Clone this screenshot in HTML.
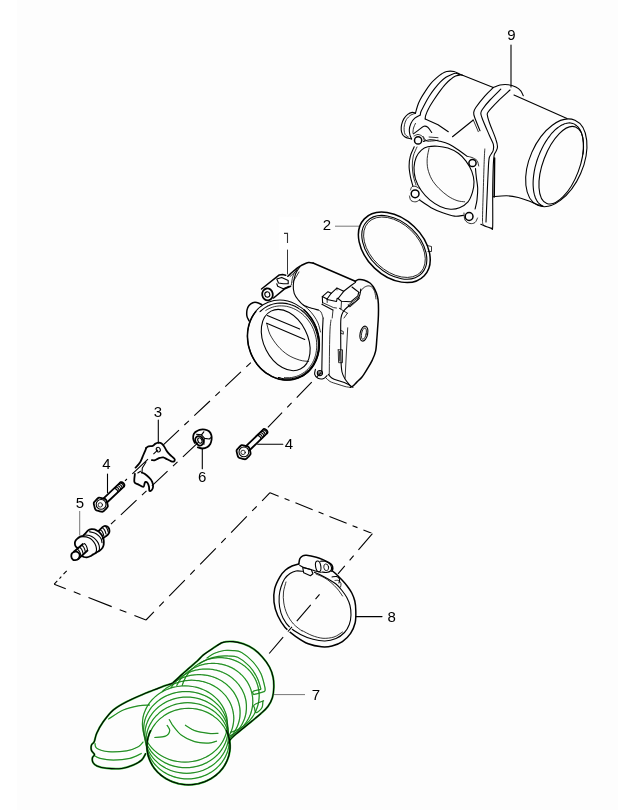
<!DOCTYPE html>
<html><head><meta charset="utf-8"><style>
html,body{margin:0;padding:0;background:#fdfdfd;}
svg{display:block;}
.k{fill:none;stroke:#000;stroke-width:1.1;stroke-linecap:round;stroke-linejoin:round;}
.t{fill:none;stroke:#000;stroke-width:0.8;stroke-linecap:round;stroke-linejoin:round;}
.b{fill:none;stroke:#000;stroke-width:1.5;stroke-linecap:round;stroke-linejoin:round;}
.g{fill:none;stroke:#777;stroke-width:1;}
.d{fill:none;stroke:#000;stroke-width:1.1;stroke-dasharray:21.5 7.4 6.2 7.4;}
.dh{fill:none;stroke:#fdfdfd;stroke-width:3.2;stroke-dasharray:21.5 7.4 6.2 7.4;}
.lbl{font-family:"Liberation Sans",sans-serif;fill:#000;filter:grayscale(1);}
.one{fill:none;stroke:#333;stroke-width:1.1;}
.gk{fill:none;stroke:#000;stroke-width:1;}
.b2{fill:none;stroke:#000;stroke-width:1.8;stroke-linecap:round;stroke-linejoin:round;}
.hgg{fill:none;stroke:#3cc83c;stroke-width:1.25;}
.hkg{fill:none;stroke:#3cc83c;stroke-width:2.0;}
.hg{fill:none;stroke:#041a04;stroke-width:0.4;}
.hk{fill:none;stroke:#000;stroke-width:1.15;}
</style></head><body>
<svg width="618" height="810" viewBox="0 0 618 810">
<rect x="0" y="0" width="17" height="810" fill="#fff"/>
<rect x="278.8" y="216.9" width="21.1" height="33" fill="#fff"/>
<text class="lbl" x="511.4" y="40" font-size="15" text-anchor="middle">9</text>
<path class="k" d="M511,45 L511,87"/>
<path class="k" d="M415.5,113.1 C415.8,111.9 416.8,108.2 417.5,106 C418.2,103.8 418.8,102.3 420,100 C421.2,97.7 423.1,94.6 424.9,91.9 C426.6,89.2 428.6,86.1 430.5,83.8 C432.4,81.5 434.3,79.8 436.2,78.1 C438.1,76.4 440.1,74.8 441.8,73.7 C443.6,72.6 444.7,71.9 446.7,71.5 C448.7,71.1 452,71.1 454,71.5 C456,71.9 458,73.3 458.8,73.7"/>
<path class="k" d="M420.3,114.7 C420.4,114.2 420.4,113 421,111.5 C421.6,110 422.7,108.1 424,105.6 C425.3,103.1 427.1,99.5 428.9,96.7 C430.7,93.9 432.7,91.1 434.6,88.7 C436.5,86.3 438.3,84.1 440.2,82.2 C442.1,80.3 444,78.6 445.9,77.3 C447.8,76 450,75.2 451.6,74.5 C453.2,73.8 454.3,73.3 455.6,73.3 C456.9,73.3 458.9,74.3 459.6,74.5"/>
<path class="k" d="M425.2,118.9 C425.3,118.3 425.1,117.2 425.7,115.4 C426.3,113.6 427.5,110.7 428.9,108.1 C430.2,105.5 432.1,102.7 433.8,100 C435.6,97.3 437.5,94.5 439.4,91.9 C441.3,89.3 443.2,86.7 445.1,84.6 C447,82.5 448.9,80.7 450.7,79.3 C452.4,77.9 454,76.8 455.6,76.1 C457.2,75.4 459.3,75 460.5,74.9 C461.7,74.8 462.6,75.4 463,75.5"/>
<path class="k" d="M458.8,73.7 L493.3,87.5"/>
<path class="k" d="M415.5,113.1 C414.9,113 413.5,112.2 412.2,112.4 C410.9,112.6 409.1,113.3 407.7,114.4 C406.3,115.5 404.8,117.2 403.8,118.9 C402.8,120.6 402,122.9 401.6,124.7 C401.2,126.5 401.1,128.3 401.2,129.9 C401.3,131.5 401.9,133.2 402.5,134.4 C403.1,135.6 404.1,136.3 405.1,137 C406.1,137.7 407.3,138 408.4,138.3 C409.5,138.6 411.1,138.9 411.6,139"/>
<path class="t" d="M415.5,113.4 C414.7,113.7 412.4,114 410.9,115 C409.4,116 407.5,117.9 406.4,119.5 C405.3,121.1 404.9,123 404.5,124.7 C404.1,126.4 404,128.3 404.1,129.9 C404.2,131.5 404.4,133.2 405.1,134.4 C405.8,135.6 407.8,136.6 408.4,137"/>
<path class="k" d="M420.3,115 C419.4,115.5 416.4,116.8 414.8,118.2 C413.2,119.6 411.8,121.5 410.9,123.4 C410,125.4 409.4,128 409.3,129.9 C409.2,131.8 409.6,133.6 410,135.1 C410.4,136.6 411.3,138.3 411.6,139"/>
<path class="t" d="M415.5,123.4 C415.2,124.2 413.9,126.4 413.5,128 C413.1,129.6 413,132.2 412.9,133.1"/>
<path class="k" d="M425.2,118.9 L438,124.7 L448.3,131.7"/>
<path class="k" d="M452.5,136.7 L473.3,120"/>
<path class="t" d="M473.3,120 L478.3,131.7"/>
<path class="k" d="M413.5,133.8 C414.4,133.2 417,131.2 418.7,129.9 C420.4,128.7 422.4,126.7 423.9,126.3 C425.4,125.9 426.5,126.3 427.8,127.3 C429.1,128.3 431.1,131.6 431.7,132.5"/>
<path class="t" d="M423.2,136.4 C423.8,137.2 424.9,140.2 426.5,140.9 C428.1,141.7 431.1,141 433,140.9 C434.9,140.8 437.2,140.3 438,140.2"/>
<path class="t" d="M429.1,137 L438,137.7"/>
<path class="k" d="M493.3,87.5 C494.4,87.1 497.5,85.5 500,85 C502.5,84.5 505.7,84.4 508.3,84.7 C510.9,85 513.7,86 515.8,87 C517.9,88 519.5,89.3 520.8,90.8 C522,92.3 522.9,95 523.3,95.8"/>
<path class="k" d="M493.3,87.5 C491.9,88.9 487.9,92.5 485,95.8 C482.1,99.1 477.7,104.7 475.8,107.5 C473.9,110.3 473.9,110.8 473.7,112.5 C473.5,114.2 473.6,114.5 474.7,117.5 C475.8,120.5 479.1,128.6 480,130.8"/>
<path class="k" d="M500.8,89.2 C499,91 493.1,96.7 490,100 C486.9,103.3 484,107 482.5,109.2 C481,111.4 480.8,111.6 480.8,113.3 C480.8,115 481.1,115.6 482.5,119.2 C483.9,122.8 487.4,130.8 489.2,135 C491,139.2 492.6,141.7 493.3,144.2 C494,146.7 493.6,148.5 493.3,150 C493,151.5 492.3,152.1 491.7,153.3 C491.1,154.5 490,155.1 489.5,157 C489,158.9 488.9,158.2 488.5,165 C488.1,171.8 487.4,188.5 487,198 C486.6,207.5 486.2,218 486,222"/>
<path class="k" d="M510,90 C508.1,91.8 501.9,97.2 498.3,100.8 C494.7,104.4 490.1,109.2 488.3,111.7 C486.5,114.2 487.2,113.7 487.5,115.8 C487.8,117.9 488.6,120.3 490,124.2 C491.4,128.1 494.6,135.4 495.8,139.2 C497.1,142.9 497.5,144.6 497.5,146.7 C497.5,148.8 496.4,150.3 495.8,151.7 C495.2,153.1 494.6,152.8 494.2,155 C493.8,157.2 493.6,159.2 493.3,165 C493.1,170.8 492.8,179.8 492.7,190 C492.6,200.2 492.9,219.6 492.7,226 C492.5,232.4 491.9,227.9 491.7,228.3"/>
<path class="t" d="M484.8,149 C484.7,151.1 484.4,154.9 484.2,161.7 C483.9,168.5 483.6,180.3 483.3,190 C483,199.7 482.5,214.3 482.5,220 C482.5,225.7 483.2,223.5 483.3,224.2"/>
<path class="b" d="M494.6,158 L494.2,197"/>
<path class="k" d="M480.8,224.2 C481.8,224.6 484.8,226.1 486.7,226.8 C488.6,227.5 491.1,228.2 492,228.5"/>
<path class="k" d="M514,95 L567,118.5"/>
<path class="k" d="M493.3,196.7 C495.5,196.5 502.5,195.7 506.7,195.8 C510.9,195.9 514.7,196.7 518.3,197.5 C521.9,198.3 525.2,199.7 528.3,200.8 C531.4,201.9 534.2,203.3 536.7,204.2 C539.2,205.1 542,205.7 543,206"/>
<ellipse class="k" cx="556.3" cy="162.8" rx="26.6" ry="46.4" transform="rotate(23.7 556.3 162.8)"/>
<path class="k" d="M541.7,205.6 C541.4,205.4 540.4,204.8 539.8,204.2 C539.2,203.7 538.6,203.1 538.1,202.5 C537.6,201.8 537.1,201 536.6,200.2 C536.2,199.5 535.8,198.6 535.4,197.7 C535,196.7 534.7,195.8 534.4,194.7 C534.2,193.7 533.9,192.6 533.7,191.4 C533.5,190.3 533.4,189.1 533.3,187.9 C533.2,186.7 533.1,185.4 533.1,184.1 C533.1,182.8 533.1,181.4 533.2,180.1 C533.3,178.7 533.4,177.3 533.6,175.9 C533.8,174.4 534,173 534.2,171.6 C534.5,170.1 534.8,168.6 535.1,167.2 C535.5,165.7 535.9,164.2 536.3,162.8 C536.7,161.3 537.2,159.9 537.7,158.4 C538.2,157 538.8,155.5 539.4,154.1 C539.9,152.7 540.5,151.3 541.2,149.9 C541.8,148.6 542.5,147.2 543.2,145.9 C543.9,144.6 544.7,143.3 545.4,142.1 C546.2,140.9 547,139.7 547.8,138.5 C548.5,137.4 549.4,136.3 550.2,135.3 C551,134.2 551.9,133.2 552.7,132.3 C553.6,131.4 554.5,130.5 555.3,129.7 C556.2,128.9 557.1,128.2 558,127.5 C558.9,126.9 559.7,126.3 560.6,125.7 C561.5,125.2 562.4,124.8 563.2,124.4 C564.1,124 564.9,123.7 565.8,123.5 C566.6,123.2 567.4,123.1 568.3,123 C569.1,122.9 569.9,122.9 570.6,123 C571.4,123.1 572.1,123.3 572.8,123.5 C573.6,123.7 574.3,124 574.9,124.4 C575.6,124.8 576.2,125.2 576.8,125.8 C577.4,126.3 578,126.9 578.5,127.5 C579,128.2 579.5,129 580,129.8 C580.4,130.5 580.8,131.4 581.2,132.3 C581.6,133.3 581.9,134.2 582.2,135.3 C582.4,136.3 582.7,137.4 582.9,138.6 C583.1,139.7 583.2,140.9 583.3,142.1 C583.4,143.3 583.5,144.6 583.5,145.9 C583.5,147.2 583.5,148.6 583.4,149.9 C583.3,151.3 583.1,153.4 583,154.1"/>
<ellipse class="k" cx="561.2" cy="165.2" rx="18.2" ry="40.8" transform="rotate(20.6 561.2 165.2)"/>
<circle class="b" cx="418.1" cy="140.4" r="3.6"/>
<circle class="b" cx="472.5" cy="163" r="3.6"/>
<circle class="b" cx="415.1" cy="193.8" r="3.9"/>
<circle class="b" cx="469.1" cy="216.5" r="3.9"/>
<path class="k" d="M427.8,146.8 C430.5,146.2 434.1,146 437.5,146.2 C440.9,146.4 444.4,146.9 447.9,148.1 C451.4,149.3 455.3,151.1 458.3,153.3 C461.3,155.5 463.8,158.1 466,161.1 C468.2,164.1 470.5,167.9 471.8,171.4 C473.1,174.9 473.9,178.4 474,181.8 C474.1,185.2 473.5,188.8 472.5,192.1 C471.5,195.4 470.2,199.2 468,201.8 C465.8,204.4 462.4,206.5 459.5,207.7 C456.6,208.9 453.7,209.4 450.5,209.2 C447.3,209 443.6,207.9 440.1,206.4 C436.7,204.9 432.9,202.5 429.8,199.9 C426.7,197.3 423.8,194.2 421.4,190.8 C419,187.4 416.7,183.1 415.5,179.2 C414.3,175.3 413.9,171.2 414,167.5 C414.1,163.8 415,160.1 416.2,157.2 C417.4,154.3 419.5,151.8 421.4,150.1 C423.3,148.4 425.1,147.5 427.8,146.8Z"/>
<path class="t" d="M429.1,148.1 C428.8,149.8 427.4,155.1 427.2,158.5 C427,161.9 427.1,165.4 427.8,168.8 C428.6,172.2 429.9,175.9 431.7,179.2 C433.5,182.4 436.1,185.5 438.8,188.3 C441.5,191.1 444.9,193.9 447.9,196 C450.9,198.1 454.2,199.6 457,200.6 C459.8,201.6 463.4,201.6 464.7,201.8"/>
<path class="k" d="M414.2,146.8 C413.6,148.3 411.2,152.7 410.4,155.9 C409.5,159.1 409.1,162.8 409.1,166.2 C409.1,169.6 409.8,173.3 410.4,176.6 C411,179.9 412.5,184.4 412.9,186"/>
<path class="t" d="M417,147 C416.4,148.5 414.1,152.8 413.3,156 C412.5,159.2 412.3,162.7 412.3,166 C412.3,169.3 412.7,172.8 413.3,176 C413.9,179.2 415.6,183.5 416,185"/>
<path class="k" d="M419.4,199.9 C421.3,201.2 427.2,205.5 431.1,207.7 C435,209.8 438.8,211.4 442.7,212.8 C446.6,214.2 450.9,215.7 454.4,216.1 C457.8,216.5 461.9,215.5 463.4,215.4"/>
<path class="k" d="M475.1,209 C475.4,207.5 476.6,203.3 477,199.9 C477.4,196.5 477.8,192 477.7,188.3 C477.6,184.6 476.8,181.2 476.4,177.9 C476,174.6 475.6,170.1 475.5,168.5"/>
<path class="k" d="M467.3,156.5 C466,155.5 462.5,152.8 459.5,150.7 C456.5,148.6 452.6,145.8 449.2,144.2 C445.8,142.6 442,141.8 438.8,141 C435.6,140.2 432.4,139.6 429.8,139.7 C427.2,139.8 424.6,141.2 423.5,141.5"/>
<path class="t" d="M414,136 C414.7,135.8 416.6,134.4 418,134.5 C419.4,134.6 421.4,135.4 422.5,136.5 C423.6,137.6 424.2,140.2 424.5,141"/>
<path class="t" d="M410.5,190 C410.8,189.4 411.1,187.3 412,186.7 C412.9,186.1 414.7,186.1 416,186.5 C417.3,186.9 419.3,188.6 420,189"/>
<path class="t" d="M409.5,196 C409.8,196.8 409.9,199.5 411,200.5 C412.1,201.5 414.5,202 416,201.8 C417.5,201.6 419.3,199.9 420,199.5"/>
<path class="t" d="M464,213 C464.2,214.2 464,218.2 465,220 C466,221.8 468.3,223.1 470,223.5 C471.7,223.9 473.8,223.4 475,222.5 C476.2,221.6 477.1,218.8 477.5,218"/>
<path class="t" d="M468,156.5 C468.7,156.7 470.5,156.8 472,157.5 C473.5,158.2 475.9,159.1 477,160.5 C478.1,161.9 478.4,165.1 478.7,166"/>
<text class="lbl" x="326.9" y="229.6" font-size="15" text-anchor="middle">2</text>
<path class="g" d="M335,226.2 L359,226.2"/>
<ellipse class="b" cx="394.3" cy="247.3" rx="41.3" ry="28.7" transform="rotate(43.5 394.3 247.3)"/>
<ellipse class="k" cx="394.3" cy="247.3" rx="37.8" ry="25.3" transform="rotate(43.5 394.3 247.3)"/>
<ellipse class="t" cx="394.5" cy="247.3" rx="36.2" ry="23.7" transform="rotate(43.5 394.5 247.3)"/>
<path class="t" d="M427,245.5 L431.5,246.5 L431.5,251.5 L428,251.5"/>
<path class="one" d="M284,233.4 L287.5,233.4 L287.5,243"/>
<path class="t" d="M287.5,250 L287.5,274"/>
<path class="b" d="M287.8,276.2 C288.6,275.5 291,273.3 292.5,272 C294,270.7 295.6,269.4 296.8,268.4 C298.1,267.4 298.9,266.8 300,266.2 C301.1,265.6 301.9,265.1 303.3,264.5 C304.7,263.9 306.9,262.9 308.5,262.6 C310.1,262.4 312.2,262.9 313,263"/>
<path class="b" d="M313,263 L355.3,281.3"/>
<path class="b" d="M355.3,281.3 C355.9,281 357.2,279.8 358.7,279.6 C360.2,279.4 362.5,279.6 364.4,280.2 C366.3,280.8 368.5,281.9 370,283 C371.5,284.1 372.3,285.4 373.4,287 C374.4,288.6 375.5,290.6 376.3,292.7 C377.1,294.8 377.6,296.6 378,299.4 C378.4,302.2 378.5,306.2 378.5,309.6 C378.5,313 378.4,316.6 378.2,320 C378,323.4 377.7,326.8 377.5,330 C377.3,333.2 377.1,335.9 376.8,339.4 C376.5,342.9 376.4,347.7 375.6,351.1 C374.9,354.6 373.7,357.1 372.3,360.1 C370.9,363.1 368.8,366.4 367.1,369.2 C365.4,372 363.7,374.9 362,377 C360.3,379.1 358.3,380.6 356.8,382.1 C355.3,383.6 354,385.1 352.9,386 C351.8,386.9 350.7,387.1 350.3,387.3"/>
<path class="t" d="M359.8,292.7 C360.4,291.9 361.9,289.2 363.2,288.1 C364.5,287 366.4,286.1 367.8,285.9 C369.2,285.7 370.6,286.1 371.7,287 C372.8,287.9 373.9,289.5 374.6,291.5 C375.3,293.5 375.8,297.8 376,299"/>
<path class="k" d="M360.8,289 C360.6,290 360.4,293.2 359.8,295 C359.2,296.8 358.3,298.5 357,300 C355.7,301.5 353.7,302.8 352,304 C350.3,305.2 348.5,306.2 347,307.5 C345.5,308.8 344,310.2 343,312 C342,313.8 341.4,315 341,318 C340.6,321 340.7,323 340.7,330 C340.7,337 340.8,353 341,360 C341.2,367 341.3,368.8 342,372 C342.7,375.2 343.6,376.7 345,379 C346.4,381.3 349.6,384.8 350.5,386"/>
<path class="t" d="M331,320 C330.8,321.7 330.2,325 330,330 C329.8,335 329.6,342.6 329.5,350 C329.4,357.4 329.3,370.3 329.3,374.4"/>
<path class="k" d="M323.1,318 L322.5,330.4 L321.8,371.8"/>
<path class="t" d="M347.7,327.8 L346.5,350 L345.1,378.3"/>
<path class="k" d="M328.3,374.4 C328.9,375 330.5,377.2 332.2,378.3 C333.9,379.4 336.3,380 338.7,380.8 C341.1,381.6 344.2,382.4 346.4,383.4 C348.5,384.3 350.5,385.9 351.6,386.5 C352.7,387.1 352.8,387.1 353,387.2"/>
<path class="t" d="M326,378 C326.7,378.6 328.2,380.5 330,381.5 C331.8,382.5 334.5,383.2 337,384 C339.5,384.8 342.8,385.9 345,386.5 C347.2,387.1 349.4,387.2 350.3,387.3"/>
<path class="k" d="M322.3,296.6 L328,291.7 L331.2,293.3 L327.1,299 L322.3,296.6"/>
<path class="k" d="M322.3,296.6 L322.6,303"/>
<path class="t" d="M327.1,299 L327.2,302.5"/>
<path class="k" d="M331.2,293.3 L336.8,288.1 L343.7,291.3 L338.1,298.5"/>
<path class="k" d="M327.1,299.5 L336.5,301.5 L337.2,298.2 L338.1,298.5"/>
<path class="k" d="M343.7,291.3 L351.4,285.3 L355.5,282.4"/>
<path class="k" d="M338.1,298.5 L341.5,301.3 L350.6,301.8 L357.9,295.8 L358.7,292.1 L355.5,289.7 L352,287"/>
<path class="t" d="M336.8,288.1 L337,290"/>
<path class="t" d="M348.2,305.1 L358.7,297 L359.5,298.6 L349.8,307.1 L348.2,305.1"/>
<path class="k" d="M321.9,304.3 L332.8,309.9"/>
<path class="t" d="M322.6,302.6 L333.5,307.6 L336.5,308"/>
<path class="t" d="M333,310 L332.2,318"/>
<path class="t" d="M341.5,301.3 L341,309 L339.3,308.3 L347.4,313.2"/>
<path class="t" d="M347.4,313.2 L344,318"/>
<path class="k" d="M300,266.7 C299.2,267.9 296.6,270.9 295.5,274 C294.4,277.1 293.5,281.8 293.3,285 C293.1,288.2 293.4,290.8 294.2,293.3 C295,295.8 296.8,298.1 298.3,300 C299.8,301.9 301.1,303.6 303.3,305 C305.5,306.4 309.2,307.5 311.7,308.3 C314.2,309.1 317.2,309.7 318.3,310"/>
<path class="t" d="M297.5,268 C296.8,269.3 294,273.2 293,276 C292,278.8 291.6,283.5 291.3,285"/>
<ellipse class="k" cx="363.9" cy="333.6" rx="3.8" ry="7.6" transform="rotate(12 363.9 333.6)"/>
<ellipse class="t" cx="363.9" cy="333.6" rx="2.3" ry="5.8" transform="rotate(12 363.9 333.6)"/>
<path class="t" d="M340.6,330.4 L343.3,331.5 L343.3,334.2 L340.6,333"/>
<path class="t" d="M338.2,349.8 L342.5,349.8 L342.5,362.7 L338.6,362.7 L338.2,349.8"/>
<path class="t" d="M339.5,351.5 L339.7,361"/>
<path class="t" d="M303.3,305 C304.2,305.8 307.2,308.2 309,310 C310.8,311.8 312.5,313.8 314,316 C315.5,318.2 316.9,320.3 318,323 C319.1,325.7 320.1,330.5 320.5,332"/>
<path class="t" d="M318.3,310 C318.8,310.3 320.2,310.7 321,312 C321.8,313.3 322.8,317 323.1,318"/>
<circle class="k" cx="319.9" cy="373.1" r="2.6"/>
<circle class="t" cx="319.9" cy="373.1" r="1.3"/>
<path class="k" d="M315.4,369.2 C315.3,370.1 314.3,372.9 314.7,374.4 C315.1,375.9 316.6,377.6 318,378.3 C319.4,379 321.6,379.2 323.1,378.8 C324.6,378.4 326.4,376.1 327,375.6"/>
<ellipse class="b2" cx="267.5" cy="294.4" rx="5.3" ry="6" transform="rotate(-10 267.5 294.4)"/>
<ellipse class="k" cx="267.3" cy="294.5" rx="2.5" ry="2.7" transform="rotate(-10 267.3 294.5)"/>
<path class="b" d="M261.5,289 L279.3,274.9 L282.6,274.6 L285.7,275.3"/>
<path class="b" d="M273.6,298 L284.9,288.7 L290.6,286.3"/>
<path class="k" d="M276.8,279 L281.7,277.4 L288.2,280.6 L288.2,283.8 L283.3,283.8 L278.5,283 L276.8,279"/>
<path class="k" d="M276.8,283.8 L277.7,286.3 L283.3,288.7 L289,286.3"/>
<path class="t" d="M290.1,276.5 L297,270"/>
<path class="t" d="M293,282 L299,272"/>
<path class="b" d="M249,320.8 C248.7,320 247.2,317.8 246.9,316 C246.6,314.2 246.7,311.8 247,310 C247.3,308.2 248,306.7 249,305.5 C250,304.3 251.5,303.2 252.8,302.7 C254.1,302.2 255.2,302.2 256.7,302.5 C258.2,302.8 261,304.3 261.9,304.7"/>
<ellipse class="k" cx="283.4" cy="340.1" rx="35.1" ry="40.7" transform="rotate(-22 283.4 340.1)"/>
<path class="b" d="M304,309.8 C304.4,310.3 305.8,311.6 306.7,312.5 C307.6,313.4 308.4,314.4 309.2,315.4 C310,316.4 310.8,317.4 311.5,318.5 C312.2,319.6 312.9,320.7 313.5,321.8 C314.1,323 314.7,324.1 315.2,325.3 C315.8,326.5 316.3,327.7 316.7,328.9 C317.1,330.2 317.5,331.4 317.8,332.7 C318.2,333.9 318.4,335.2 318.7,336.5 C318.9,337.7 319.1,339 319.2,340.3 C319.3,341.6 319.3,342.9 319.3,344.1 C319.3,345.4 319.3,346.7 319.2,347.9 C319.1,349.2 318.9,350.4 318.7,351.6 C318.5,352.9 318.2,354.1 317.9,355.3 C317.6,356.4 317.2,357.6 316.7,358.7 C316.3,359.9 315.8,361 315.3,362 C314.8,363.1 314.2,364.1 313.6,365.1 C313,366.1 312.3,367.1 311.6,368 C310.9,368.9 310.1,369.8 309.3,370.6 C308.5,371.4 307.7,372.2 306.8,373 C305.9,373.7 305,374.4 304.1,375 C303.1,375.6 302.2,376.2 301.2,376.7 C300.2,377.2 299.1,377.7 298.1,378.1 C297,378.5 296,378.8 294.9,379.1 C293.8,379.4 292.7,379.6 291.5,379.7 C290.4,379.9 289.3,380 288.2,380 C287,380.1 285.9,380.1 284.7,380 C283.6,379.9 282.4,379.7 281.3,379.5 C280.1,379.3 279,379.1 277.8,378.7 C276.7,378.4 275.6,378 274.5,377.6 C273.4,377.1 272.2,376.6 271.2,376.1 C270.1,375.5 269,374.9 268,374.2 C266.9,373.6 265.9,372.9 264.9,372.1 C264,371.3 263,370.5 262.1,369.7 C261.2,368.8 260.3,367.9 259.4,366.9 C258.5,366 257.7,365 256.9,364 C256.2,363 255.4,361.9 254.7,360.8 C254,359.7 253.4,358.6 252.8,357.4 C252.2,356.3 251.6,355.1 251.1,353.9 C250.6,352.7 250.2,351.5 249.8,350.2 C249.4,349 249,347.8 248.7,346.5 C248.4,345.2 248.2,344 248,342.7 C247.8,341.4 247.6,340.1 247.6,338.9 C247.5,337.6 247.4,336.3 247.5,335 C247.5,333.8 247.6,332.5 247.7,331.3 C247.9,330 248.1,328.8 248.3,327.6 C248.5,326.3 248.8,325.1 249.2,324 C249.6,322.8 250,321.7 250.4,320.5 C250.9,319.4 251.4,318.3 251.9,317.3 C252.5,316.3 253.1,315.2 253.7,314.3 C254.4,313.3 255.5,311.9 255.8,311.5"/>
<path class="k" d="M260,311.6 C260.4,311.3 261.4,310.4 262.1,309.8 C262.8,309.2 263.5,308.6 264.3,308.1 C265,307.6 265.8,307.1 266.6,306.7 C267.4,306.2 268.3,305.8 269.1,305.5 C269.9,305.1 270.8,304.8 271.7,304.5 C272.5,304.2 273.4,304 274.3,303.8 C275.2,303.6 276.1,303.4 277,303.3 C277.9,303.2 278.9,303.1 279.8,303.1 C280.7,303.1 281.6,303.1 282.6,303.1 C283.5,303.2 284.4,303.3 285.4,303.4 C286.3,303.6 287.2,303.8 288.2,304 C289.1,304.2 290,304.5 290.9,304.8 C291.9,305.1 292.8,305.4 293.7,305.8 C294.6,306.2 295.4,306.6 296.3,307.1 C297.2,307.5 298.1,308 298.9,308.6 C299.7,309.1 300.6,309.7 301.4,310.3 C302.2,310.9 303,311.6 303.7,312.2 C304.5,312.9 305.3,313.6 306,314.3 C306.7,315.1 307.4,315.9 308.1,316.6 C308.7,317.4 309.4,318.3 310,319.1 C310.6,320 311.2,320.8 311.7,321.7 C312.3,322.6 312.8,323.5 313.3,324.5 C313.8,325.4 314.2,326.3 314.7,327.3 C315.1,328.3 315.5,329.3 315.8,330.3 C316.2,331.2 316.5,332.3 316.8,333.3 C317.1,334.3 317.3,335.3 317.5,336.3 C317.7,337.4 317.9,338.4 318,339.4 C318.2,340.5 318.3,341.5 318.3,342.5 C318.4,343.6 318.4,344.6 318.4,345.6 C318.3,346.7 318.3,347.7 318.2,348.7 C318.1,349.7 318,350.7 317.8,351.7 C317.6,352.7 317.4,353.7 317.2,354.7 C316.9,355.6 316.6,356.6 316.3,357.5 C316,358.5 315.6,359.4 315.2,360.3 C314.8,361.2 314.4,362 314,362.9 C313.5,363.7 313,364.5 312.5,365.3 C312,366.1 311.4,366.9 310.8,367.6 C310.2,368.4 309.6,369.1 309,369.8 C308.3,370.4 307.6,371.1 306.9,371.7 C306.3,372.3 305.5,372.9 304.8,373.4 C304,373.9 303.3,374.4 302.5,374.9 C301.7,375.4 300.9,375.8 300,376.2 C299.2,376.6 298.4,376.9 297.5,377.2 C296.7,377.5 295.8,377.8 294.9,378 C294,378.2 293.1,378.4 292.2,378.6 C291.3,378.7 290.4,378.8 289.4,378.9 C288.5,378.9 287.6,378.9 286.7,378.9 C285.7,378.9 284.8,378.8 283.9,378.7 C282.9,378.6 282,378.4 281.1,378.2 C280.1,378 278.7,377.6 278.3,377.5"/>
<path class="t" d="M265.8,310.4 C266.1,310.2 267.2,309.6 267.8,309.2 C268.5,308.8 269.3,308.5 270,308.2 C270.7,307.8 271.4,307.6 272.2,307.3 C272.9,307.1 273.7,306.8 274.5,306.6 C275.2,306.5 276,306.3 276.8,306.2 C277.6,306.1 278.4,306 279.2,305.9 C280,305.9 280.8,305.9 281.6,305.9 C282.4,305.9 283.2,305.9 284,306 C284.8,306.1 285.6,306.2 286.4,306.3 C287.3,306.5 288.1,306.7 288.9,306.9 C289.7,307.1 290.5,307.4 291.2,307.6 C292,307.9 292.8,308.2 293.6,308.6 C294.4,308.9 295.1,309.3 295.9,309.7 C296.7,310.1 297.4,310.5 298.1,311 C298.9,311.4 299.6,311.9 300.3,312.5 C301,313 301.7,313.5 302.4,314.1 C303,314.7 303.7,315.3 304.3,315.9 C305,316.5 305.6,317.2 306.2,317.8 C306.8,318.5 307.4,319.2 307.9,319.9 C308.5,320.6 309,321.4 309.5,322.1 C310,322.9 310.5,323.6 311,324.4 C311.4,325.2 311.9,326 312.3,326.8 C312.7,327.6 313.1,328.5 313.4,329.3 C313.8,330.2 314.1,331 314.4,331.9 C314.7,332.7 315,333.6 315.2,334.5 C315.5,335.4 315.7,336.3 315.9,337.2 C316.1,338 316.2,338.9 316.4,339.8 C316.5,340.7 316.6,341.6 316.6,342.5 C316.7,343.4 316.7,344.3 316.7,345.2 C316.8,346.1 316.7,347 316.7,347.9 C316.6,348.8 316.5,349.7 316.4,350.5 C316.3,351.4 316.2,352.3 316,353.1 C315.8,354 315.6,354.8 315.4,355.7 C315.1,356.5 314.9,357.3 314.6,358.1 C314.3,358.9 314,359.7 313.6,360.5 C313.3,361.2 312.9,362 312.5,362.7 C312.1,363.4 311.7,364.1 311.2,364.8 C310.8,365.5 310.3,366.2 309.8,366.8 C309.3,367.5 308.8,368.1 308.2,368.7 C307.7,369.3 307.1,369.9 306.5,370.4 C305.9,371 305.3,371.5 304.7,372 C304,372.5 303.4,372.9 302.7,373.3 C302,373.8 301.4,374.2 300.7,374.5 C300,374.9 299.2,375.3 298.5,375.6 C297.8,375.9 297,376.2 296.3,376.4 C295.5,376.6 294.8,376.8 294,377 C293.2,377.2 292.5,377.4 291.7,377.5 C290.9,377.6 290.1,377.7 289.3,377.7 C288.5,377.7 287.7,377.8 286.9,377.7 C286.1,377.7 284.8,377.6 284.4,377.6"/>
<ellipse class="k" cx="285.7" cy="340.1" rx="32.5" ry="21.9" transform="rotate(63.1 285.7 340.1)"/>
<path class="k" d="M267.3,315.5 L299.7,329.1"/>
<path class="k" d="M266.7,323.2 L304.8,339.4"/>
<path class="t" d="M266.7,323.2 C267.2,325 268.1,330.4 269.9,334.2 C271.7,338 274.7,342.4 277.7,345.9 C280.7,349.4 284.3,352.6 288,355 C291.7,357.4 296.2,359 299.7,360.1 C303.1,361.2 307.2,361.2 308.7,361.4"/>
<path class="d" d="M253.9,359.7 L125,480.8" stroke-dashoffset="24.7"/>
<path class="d" d="M320.5,373.2 L267.9,427.3" stroke-dashoffset="29.9"/>
<path class="d" d="M198.6,442.1 L109.2,525.8" stroke-dashoffset="0"/>
<text class="lbl" x="157.8" y="416.6" font-size="15" text-anchor="middle">3</text>
<path class="k" d="M158.3,420 L158.3,443.3"/>
<text class="lbl" x="106.4" y="469" font-size="15" text-anchor="middle">4</text>
<path class="k" d="M107.5,474 L107.5,492.5"/>
<text class="lbl" x="79.8" y="508" font-size="15" text-anchor="middle">5</text>
<path class="g" d="M79.7,511 L79.7,535.5"/>
<text class="lbl" x="202.1" y="482" font-size="15" text-anchor="middle">6</text>
<path class="k" d="M202.3,448.3 L202.3,468.7"/>
<text class="lbl" x="289" y="449" font-size="15" text-anchor="middle">4</text>
<path class="k" d="M257.7,444.3 L282.8,444.3"/>
<text class="lbl" x="391.7" y="621.8" font-size="15" text-anchor="middle">8</text>
<path class="k" d="M355.7,616.6 L382,616.6"/>
<text class="lbl" x="315.9" y="700.4" font-size="15" text-anchor="middle">7</text>
<path class="g" d="M273.8,694.6 L305,694.6"/>
<path class="b2" d="M249.8,450 L267.2,433.2"/>
<path class="b2" d="M246,446.1 L263.4,429.3"/>
<path class="b2" d="M267.2,433.2 C268.8,431.7 265,427.8 263.4,429.3"/>
<path class="k" d="M267,433.4 Q266.2,430.4 263.2,429.5"/>
<path class="k" d="M265.5,434.8 Q264.7,431.8 261.8,430.9"/>
<path class="k" d="M264.1,436.2 Q263.3,433.2 260.4,432.3"/>
<path class="k" d="M262.7,437.6 Q261.9,434.6 258.9,433.7"/>
<path class="k" d="M261.2,438.9 Q260.4,436 257.5,435.1"/>
<path class="b2" d="M250.6,454.1 C250.3,455.1 249.1,456 248.3,456.9 C247.4,457.7 246.5,458.9 245.5,459.2 C244.4,459.4 243.1,458.9 241.9,458.6 C240.7,458.3 239.3,458.1 238.5,457.3 C237.7,456.5 237.5,455.1 237.2,453.9 C236.9,452.7 236.4,451.4 236.6,450.3 C236.9,449.3 238.1,448.4 238.9,447.5 C239.8,446.7 240.7,445.5 241.7,445.2 C242.8,445 244.1,445.5 245.3,445.8 C246.5,446.1 247.9,446.3 248.7,447.1 C249.5,447.9 249.7,449.3 250,450.5 C250.3,451.7 250.8,453 250.6,454.1Z"/>
<circle class="k" cx="243.9" cy="451.9" r="4.9"/>
<circle class="t" cx="243.1" cy="452.4" r="2.2"/>
<path class="b2" d="M107,502.5 L124.1,486.3"/>
<path class="b2" d="M103.3,498.6 L120.4,482.4"/>
<path class="b2" d="M124.1,486.3 C125.7,484.8 121.9,480.9 120.4,482.4"/>
<path class="k" d="M123.9,486.5 Q123.1,483.5 120.1,482.6"/>
<path class="k" d="M122.4,487.9 Q121.6,484.9 118.7,484"/>
<path class="k" d="M121,489.3 Q120.2,486.3 117.2,485.3"/>
<path class="k" d="M119.5,490.6 Q118.7,487.6 115.8,486.7"/>
<path class="k" d="M118.1,492 Q117.3,489 114.3,488.1"/>
<path class="b2" d="M107.8,506.6 C107.5,507.6 106.3,508.5 105.5,509.4 C104.6,510.2 103.7,511.4 102.7,511.7 C101.6,511.9 100.3,511.4 99.1,511.1 C97.9,510.8 96.5,510.6 95.7,509.8 C94.9,509 94.7,507.6 94.4,506.4 C94.1,505.2 93.6,503.9 93.8,502.8 C94.1,501.8 95.3,500.9 96.1,500 C97,499.2 97.9,498 98.9,497.7 C100,497.5 101.3,498 102.5,498.3 C103.7,498.6 105.1,498.8 105.9,499.6 C106.7,500.4 106.9,501.8 107.2,503 C107.5,504.2 108,505.5 107.8,506.6Z"/>
<circle class="k" cx="101.1" cy="504.4" r="4.9"/>
<circle class="t" cx="100.3" cy="504.9" r="2.2"/>
<path class="b2" d="M195.5,432 C196.2,431.6 197.9,430.2 199.5,429.8 C201.1,429.4 203.4,429.4 205,429.6 C206.6,429.9 207.9,430.4 209,431.3 C210.1,432.2 210.9,433.6 211.3,435 C211.7,436.4 211.8,438 211.6,439.5 C211.4,441 211.1,442.7 210.3,444 C209.5,445.3 208.3,446.6 207,447.3 C205.7,448.1 203.8,448.5 202.3,448.5 C200.8,448.5 198.6,447.5 197.8,447.3"/>
<path class="b2" d="M194.8,442.8 C194.5,442.1 193.4,439.9 193.2,438.5 C193,437.1 193.2,435.6 193.6,434.5 C194,433.4 195.2,432.4 195.5,432"/>
<ellipse class="b2" cx="199.4" cy="440.8" rx="3.9" ry="4.9" transform="rotate(-25 199.4 440.8)"/>
<ellipse class="k" cx="199.9" cy="440.5" rx="2" ry="2.8" transform="rotate(-25 199.9 440.5)"/>
<path class="k" d="M196.5,434.3 L201.5,434.9 L203.8,431.8"/>
<path class="k" d="M201.5,434.9 L204.6,438.4 L209.3,439 L211.2,437.3"/>
<path class="t" d="M204.6,438.4 L204,444.5"/>
<path class="b2" d="M146.2,447.9 C146.6,447.6 147.5,446.6 148.6,446.3 C149.7,446 151.6,446.3 152.7,445.9 C153.8,445.5 154.2,444.4 155.1,443.9 C156,443.4 157.2,442.8 158.3,442.7 C159.4,442.6 160.7,442.9 161.6,443.5 C162.5,444.1 163.2,445.2 164,446.3 C164.8,447.4 165.5,449 166.4,450.4 C167.3,451.8 168.5,453.2 169.6,454.4 C170.7,455.6 172.3,456.7 173.2,457.6 C174.1,458.5 174.7,459 174.8,459.7 C174.9,460.4 174.3,461.3 173.7,461.6 C173.1,461.9 172.4,461.7 171.3,461.3 C170.2,460.9 168.5,460 167.2,459.3 C165.8,458.6 164.4,457.6 163.2,457.4 C162,457.2 161,457.6 159.9,457.9 C158.8,458.2 157.6,458.9 156.7,459.3 C155.8,459.7 155.1,460.2 154.3,460.3 C153.5,460.4 152.2,460.1 151.8,460.1"/>
<path class="b2" d="M146.2,447.9 C146,448.4 145.6,449.8 145,451.2 C144.4,452.6 143.7,454.2 142.9,456 C142.2,457.8 141.3,460.2 140.5,461.7 C139.7,463.2 138.9,463.9 138.1,464.9 C137.3,465.9 135.9,467.2 135.5,467.6"/>
<ellipse class="k" cx="158.3" cy="449.6" rx="1.9" ry="2.4" transform="rotate(-25 158.3 449.6)"/>
<path class="b2" d="M141.7,472.6 C142.2,472.8 143.3,472.9 144.6,473.8 C145.9,474.7 148.1,476.5 149.4,477.9 C150.7,479.2 151.6,480.4 152.2,481.9 C152.8,483.4 153.2,485.4 153.1,486.8 C153,488.2 152.4,489.3 151.8,490 C151.2,490.7 149.9,491.3 149.4,490.8 C148.9,490.3 149.3,488.2 149,486.8 C148.7,485.4 148,483.5 147.4,482.7 C146.8,481.9 145.9,481.8 145.4,481.9 C144.9,482 144.9,482.7 144.6,483.5 C144.2,484.3 144.4,486.7 143.3,486.8 C142.2,486.9 139.6,485.2 138.1,484.4 C136.6,483.6 134.9,483.7 134.4,481.9 C133.9,480.1 134.8,475.1 134.9,473.8"/>
<path class="k" d="M142,472.5 L142.3,468 L144.2,465 L146,462"/>
<path class="k" d="M137.8,473 L140.5,471.3"/>
<path class="b2" d="M77.8,548.2 C77.5,547.9 76.3,547.3 75.8,546.6 C75.3,545.9 75,544.9 74.9,544 C74.8,543.1 74.8,542.3 75.2,541.4 C75.6,540.5 76.2,539.6 77.1,538.8 C78,538 79.4,537.1 80.4,536.6 C81.4,536.1 82.1,536.4 82.9,535.9 C83.7,535.4 84.3,534.6 85.2,533.7 C86.1,532.8 87.1,531.2 88.1,530.4 C89.1,529.6 90.3,529.3 91.4,529.1 C92.5,528.9 93.5,529.1 94.6,529.4 C95.7,529.7 96.8,530.5 97.8,531.1 C98.8,531.8 99.6,532.4 100.4,533.3 C101.2,534.1 101.9,535.1 102.4,536.2 C103,537.3 103.5,538.7 103.7,540.1 C103.9,541.5 103.9,543.4 103.7,544.7 C103.5,546 103.1,546.9 102.4,547.9 C101.8,548.9 100.8,549.8 99.8,550.5 C98.8,551.2 97.6,551.8 96.5,552.4 C95.4,553 94.4,553.8 93.3,554.4 C92.2,555 91.2,555.8 90.1,556.3 C89,556.8 87.8,557.2 86.8,557.3 C85.8,557.4 84.7,557.2 83.9,557 C83.1,556.8 82.3,556 82,555.8"/>
<path class="k" d="M81.7,536.6 C82.5,536.6 84.7,536.5 86.2,536.9 C87.7,537.3 89.4,537.9 90.7,538.8 C92,539.7 93,540.9 93.9,542.1 C94.8,543.3 95.5,544.7 95.9,546 C96.3,547.3 96.5,548.6 96.5,549.8 C96.5,551 96,552.5 95.9,553"/>
<path class="k" d="M84.2,535 C85.1,535.1 87.8,535.1 89.4,535.6 C91,536.1 92.6,536.9 93.9,537.9 C95.2,538.9 96.3,540.2 97.2,541.4 C98.1,542.6 98.7,544 99.1,545.3 C99.5,546.6 99.5,548.2 99.4,549.2 C99.3,550.2 98.7,551.1 98.5,551.5"/>
<path class="k" d="M89.4,531.7 C90.3,531.9 93.1,532.4 94.6,533 C96.1,533.6 97.4,534.6 98.5,535.6 C99.6,536.6 100.5,537.6 101.1,538.8 C101.7,540 101.8,542.1 102,542.7"/>
<path class="b2" d="M73.9,551.8 C73.6,552.1 72.2,552.7 71.8,553.5 C71.4,554.3 71.2,555.5 71.3,556.5 C71.4,557.5 71.9,558.7 72.6,559.3 C73.2,559.9 74.2,560.3 75.2,560.2 C76.2,560.1 77.7,559.7 78.4,558.9 C79.2,558.1 79.6,556.6 79.7,555.6 C79.8,554.6 79.3,553.7 78.8,553 C78.3,552.3 77.3,551.8 76.5,551.6 C75.7,551.4 74.3,551.8 73.9,551.8"/>
<path class="b2" d="M73.9,551.8 L82.9,544"/>
<path class="b2" d="M78.4,558.9 L87.5,550.5"/>
<path class="k" d="M77.6,549.4 q2.2,0.9 3.3,6.2"/>
<path class="k" d="M79.8,547.4 q2.2,0.9 3.3,6.2"/>
<path class="k" d="M82,545.5 q2.2,0.9 3.3,6.2"/>
<path class="k" d="M84.2,543.5 q2.2,0.9 3.3,6.2"/>
<path class="b2" d="M98.5,531.1 C99.2,530.5 101.3,528.1 102.4,527.2 C103.5,526.3 104,525.9 105,525.9 C106,525.9 107.5,526.3 108.2,527.2 C109,528.1 109.5,529.9 109.5,531.1 C109.5,532.3 109,533.3 108.2,534.3 C107.5,535.3 105.9,536.2 105,536.9 C104.1,537.6 103.2,538.2 102.8,538.5"/>
<path class="k" d="M100.8,530.2 q2,0.9 3.0,5.6"/>
<path class="k" d="M103,528.4 q2,0.9 3.0,5.6"/>
<path class="k" d="M105.2,526.6 q2,0.9 3.0,5.6"/>
<path class="b" d="M298.8,564 C297.7,564.3 294.2,565 292,566 C289.8,567 287.5,568.2 285.5,570 C283.5,571.8 281.7,573.7 279.9,576.8 C278.1,579.9 275.7,584.5 274.7,588.7 C273.7,592.9 273.5,597.6 274,602.1 C274.5,606.6 275.8,611.3 277.7,615.5 C279.6,619.7 282.1,623.9 285.1,627.4 C288.1,630.9 291.6,633.6 295.5,636.3 C299.4,639 303.8,642 308.2,643.8 C312.6,645.5 317.6,646.4 321.6,646.8 C325.6,647.2 328.5,646.9 332,646 C335.5,645.1 339.3,643.7 342.4,641.6 C345.5,639.5 348.5,636.5 350.6,633.4 C352.7,630.3 354.2,626.7 355.1,623 C356,619.3 355.9,614.7 355.8,611 C355.8,607.3 355.5,604 354.8,601 C354.1,598 353,595.4 351.8,593 C350.6,590.6 349.1,588.7 347.5,586.5 C345.9,584.3 343.8,581.9 342,580 C340.2,578.1 338.5,576.5 337,575 C335.5,573.5 333.5,571.9 332.8,571.3"/>
<path class="k" d="M302.7,571.3 C301.6,571.2 298.1,570.6 296,571 C293.9,571.4 291.9,572.2 290,573.5 C288.1,574.8 286,576.8 284.5,579 C283,581.2 281.9,584.2 281,587 C280.1,589.8 279.4,592.7 279.2,596 C279,599.3 279,603.3 279.6,607 C280.2,610.7 281.3,614.6 283,618 C284.7,621.4 287.1,624.8 290,627.5 C292.9,630.2 296.7,632.5 300.5,634.5 C304.3,636.5 308.9,638.2 313,639.3 C317.1,640.4 321.2,641.1 325,641 C328.8,640.9 332.8,639.9 336,638.5 C339.2,637.1 342.3,634.8 344.5,632.5 C346.7,630.2 348.2,627.4 349.3,624.5 C350.4,621.6 350.9,618.2 351,615 C351.1,611.8 350.7,608.4 350,605.5 C349.3,602.6 348.1,600 346.8,597.5 C345.5,595 343.8,592.8 342,590.5 C340.2,588.2 338.2,585.8 336,584 C333.8,582.2 331.5,581 329,579.5 C326.5,578 323.6,576.4 321.1,575.2 C318.7,574 315.4,572.8 314.3,572.3"/>
<path class="t" d="M286,582 C285.6,583.7 283.9,588.5 283.5,592 C283.1,595.5 283.2,599.3 283.8,603 C284.4,606.7 285.4,610.5 287,614 C288.6,617.5 291,621.2 293.5,624 C296,626.8 300.6,629.8 302,631"/>
<path class="t" d="M302,630.5 C303.7,631.3 308.5,634.2 312,635.5 C315.5,636.8 319.3,638 323,638.3 C326.7,638.5 330.8,638 334,637 C337.2,636 341.1,632.8 342.5,632"/>
<path class="t" d="M316,574 C317.3,574.6 321.5,576.1 324,577.5 C326.5,578.9 328.8,580.6 331,582.5 C333.2,584.4 335.6,586.8 337.5,589 C339.4,591.2 341.7,594.8 342.5,596"/>
<path class="b" d="M298.8,564 C299,563.1 299.2,560.1 299.8,558.7 C300.4,557.3 301.6,556.4 302.7,555.8 C303.8,555.2 304.3,555.1 306.6,555.3 C308.9,555.5 313.4,556.4 316.3,557.2 C319.2,558 321.9,559.2 324,560.1 C326.1,561 327.6,561.8 328.9,562.6 C330.2,563.4 331.1,564 331.8,565 C332.5,566 332.8,567.4 332.8,568.4 C332.8,569.4 332,570.8 331.8,571.3"/>
<path class="k" d="M299.8,565.5 C300.4,565.8 301.8,566.7 303.7,567.4 C305.6,568.1 309.3,569.1 311.4,569.8 C313.5,570.4 314.7,570.9 316.3,571.3 C317.9,571.7 320.3,572.1 321.1,572.3"/>
<path class="k" d="M302.7,567.4 L311.4,569.8 L312.9,573.7 L310.4,575.7 L303.7,572.8 L302.7,567.4"/>
<ellipse class="k" cx="318.2" cy="566.4" rx="2.6" ry="5.4" transform="rotate(-10 318.2 566.4)"/>
<path class="k" d="M320.5,561.2 C321.2,561.2 323.5,560.9 325,561.3 C326.5,561.7 328.4,562.5 329.5,563.5 C330.6,564.5 331.3,566.2 331.5,567.5 C331.7,568.8 331.3,570.2 330.5,571 C329.7,571.8 327.9,572.3 326.5,572.5 C325.1,572.7 322.8,572.1 322,572"/>
<ellipse class="t" cx="326.2" cy="567.3" rx="2.4" ry="3.4" transform="rotate(-10 326.2 567.3)"/>
<path class="k" d="M332,577 C332.8,576.9 335.2,576.2 336.5,576.5 C337.8,576.8 339.1,577.9 339.5,579 C339.9,580.1 339.1,582.3 339,583"/>
<path class="t" d="M335,580.5 C335.6,580.5 337.5,580 338.5,580.5 C339.5,581 340.7,582.4 341,583.5 C341.3,584.6 340.6,586.4 340.5,587"/>
<path class="d" d="M66.7,570.8 L54.2,584.2" style="stroke-dasharray:9.3 3.2 2.7 3.2;stroke-dashoffset:4.6"/>
<path class="d" d="M54.2,584.2 L146,620" style="stroke-dasharray:24.9 8.6 7.2 8.6;stroke-dashoffset:12.5"/>
<path class="d" d="M146,620 L270,492.7" style="stroke-dasharray:22.5 7.7 6.5 7.7;stroke-dashoffset:11.2"/>
<path class="d" d="M270,492.7 L371.7,533.3" style="stroke-dasharray:18.5 6.4 5.3 6.4;stroke-dashoffset:9.2"/>
<path class="dh" d="M372.4,533.6 L338,573.9" stroke-dashoffset="0"/>
<path class="d" d="M372.4,533.6 L338,573.9" stroke-dashoffset="0"/>
<path class="dh" d="M269.2,653.5 L322.5,591" stroke-dashoffset="0"/>
<path class="d" d="M269.2,653.5 L322.5,591" stroke-dashoffset="0"/>
<path class="hkg" d="M172.7,683.1 C174.2,681.7 178.8,677.2 181.6,674.7 C184.4,672.2 186.9,670.1 189.5,667.8 C192.1,665.5 195.1,663 197.4,660.9 C199.7,658.8 200.8,657.1 203.3,655 C205.9,652.9 209.4,650.6 212.7,648.5 C216,646.4 219.5,643.5 222.9,642.4 C226.3,641.2 229.7,641.4 233.1,641.6 C236.5,641.8 239.8,642.6 243.2,643.8 C246.6,645 250.2,646.7 253.4,648.9 C256.6,651.1 259.5,653.9 262.2,656.9 C264.9,659.9 267.7,663.7 269.5,667.1 C271.3,670.5 272.4,673.9 273.1,677.3 C273.8,680.7 273.9,684.1 273.8,687.5 C273.7,690.9 273.4,694.6 272.4,697.7 C271.4,700.9 269.9,703.7 268,706.4 C266.1,709.1 263.4,711.3 260.7,713.7 C258,716.1 254.9,718.6 252,721 C249.1,723.4 245.9,726.1 243.2,728.3 C240.5,730.5 238.2,732.2 236,734.1 C233.8,736 231.3,738.3 230.1,739.9 C228.9,741.5 229.1,743 228.9,743.6"/>
<path class="hgg" d="M206.6,658.3 C207.8,657.5 211.1,654.8 214,653.5 C216.9,652.2 220.9,651 224.1,650.5 C227.3,650 230.1,650.3 233,650.6 C235.9,650.9 238.2,650.6 241.6,652.5 C245,654.4 250,658.7 253.2,662.2 C256.4,665.8 259.1,669.6 261,673.8 C262.9,678 264.2,684.5 264.9,687.4 C265.5,690.3 264.9,690.6 264.9,691.3"/>
<path class="hgg" d="M198.8,664.1 C200.2,663.3 203.8,660.8 207,659.5 C210.2,658.2 214.8,657 218.3,656.4 C221.8,655.8 224.8,655.9 228,656 C231.2,656.1 234.1,655.6 237.7,657.3 C241.2,659 246.1,662.7 249.3,666.1 C252.5,669.5 255.2,673.8 257.1,677.7 C259.1,681.6 260.4,687.5 261,689.4"/>
<path class="hgg" d="M261,689.4 C259.7,689.7 254.4,690.5 253.2,691.3 C251.9,692.1 253.2,693.7 253.5,694.2 C253.8,694.7 253.2,694.7 255.1,694.2 C257,693.7 263.3,691.8 264.9,691.3"/>
<path class="hgg" d="M264,700.5 C263.8,700.6 264.5,700.3 262.9,701 C261.3,701.7 255.6,703.7 254.2,704.9 C252.8,706.1 254.2,706.7 254.5,708 C254.8,709.3 254.9,712.7 256.1,712.7 C257.3,712.7 260.8,709.8 261.9,707.8 C263,705.8 262.7,702.1 262.9,701"/>
<path class="hgg" d="M229.8,746.4 C229.8,747.7 229.7,749.1 229.6,750.4 C229.4,751.7 229.2,753 228.9,754.3 C228.6,755.6 228.2,756.9 227.8,758.2 C227.3,759.4 226.8,760.7 226.2,761.9 C225.6,763.1 225,764.3 224.3,765.4 C223.5,766.6 222.8,767.7 221.9,768.8 C221.1,769.9 220.2,770.9 219.2,771.9 C218.2,772.9 217.2,773.8 216.1,774.7 C215.1,775.6 213.9,776.4 212.8,777.2 C211.6,778 210.4,778.7 209.2,779.4 C207.9,780.1 206.6,780.7 205.3,781.2 C204,781.7 202.6,782.2 201.3,782.6 C199.9,783 198.5,783.4 197.1,783.7 C195.7,783.9 194.2,784.2 192.8,784.3 C191.4,784.4 189.9,784.5 188.5,784.5 C187.1,784.5 185.6,784.4 184.2,784.3 C182.8,784.2 181.3,783.9 179.9,783.7 C178.5,783.4 177.1,783 175.7,782.6 C174.4,782.2 173,781.7 171.7,781.2 C170.4,780.7 169.1,780.1 167.9,779.4 C166.6,778.7 165.4,778 164.2,777.2 C163.1,776.4 161.9,775.6 160.9,774.7 C159.8,773.8 158.8,772.9 157.8,771.9 C156.8,770.9 155.9,769.9 155.1,768.8 C154.2,767.7 153.5,766.6 152.7,765.4 C152,764.3 151.4,763.1 150.8,761.9 C150.2,760.7 149.7,759.4 149.2,758.2 C148.8,756.9 148.4,755.6 148.1,754.3 C147.8,753 147.6,751.7 147.4,750.4 C147.3,749.1 147.2,747.7 147.2,746.4 C147.2,745.1 147.3,743.7 147.4,742.4 C147.6,741.1 147.8,739.8 148.1,738.5 C148.4,737.2 148.8,735.9 149.2,734.6 C149.7,733.4 150.2,732.1 150.8,730.9 C151.4,729.7 152,728.5 152.7,727.4 C153.5,726.2 154.2,725.1 155.1,724 C155.9,722.9 156.8,721.9 157.8,720.9 C158.8,719.9 159.8,719 160.9,718.1 C161.9,717.2 163.1,716.4 164.2,715.6 C165.4,714.8 166.6,714.1 167.8,713.4 C169.1,712.7 170.4,712.1 171.7,711.6 C173,711.1 174.4,710.6 175.7,710.2 C177.1,709.8 178.5,709.4 179.9,709.1 C181.3,708.9 182.8,708.6 184.2,708.5 C185.6,708.4 187.1,708.3 188.5,708.3 C189.9,708.3 191.4,708.4 192.8,708.5 C194.2,708.6 195.7,708.9 197.1,709.1 C198.5,709.4 199.9,709.8 201.3,710.2 C202.6,710.6 204,711.1 205.3,711.6 C206.6,712.1 207.9,712.7 209.2,713.4 C210.4,714.1 211.6,714.8 212.8,715.6 C213.9,716.4 215.1,717.2 216.1,718.1 C217.2,719 218.2,719.9 219.2,720.9 C220.2,721.9 221.1,722.9 221.9,724 C222.8,725.1 223.5,726.2 224.3,727.3 C225,728.5 225.6,729.7 226.2,730.9 C226.8,732.1 227.3,733.4 227.8,734.6 C228.2,735.9 228.6,737.2 228.9,738.5 C229.2,739.8 229.4,741.1 229.6,742.4 C229.7,743.7 229.8,745.1 229.8,746.4Z"/>
<path class="hkg" d="M226.2,730.2 C226.4,730.6 227.1,732.1 227.5,733 C227.9,734 228.2,735 228.5,735.9 C228.8,736.9 229.1,737.9 229.3,738.9 C229.5,739.9 229.7,741 229.8,742 C230,743 230,744 230.1,745.1 C230.1,746.1 230.1,747.1 230.1,748.1 C230,749.2 229.9,750.2 229.8,751.2 C229.6,752.2 229.4,753.2 229.2,754.3 C229,755.3 228.7,756.3 228.4,757.2 C228.1,758.2 227.7,759.2 227.3,760.2 C226.9,761.1 226.5,762.1 226,763 C225.5,763.9 225,764.8 224.5,765.7 C223.9,766.6 223.3,767.5 222.7,768.3 C222,769.2 221.4,770 220.6,770.8 C219.9,771.6 219.2,772.3 218.4,773.1 C217.7,773.8 216.8,774.5 216,775.2 C215.2,775.9 214.3,776.5 213.4,777.1 C212.5,777.8 211.6,778.3 210.7,778.9 C209.7,779.4 208.8,780 207.8,780.4 C206.8,780.9 205.8,781.3 204.8,781.7 C203.7,782.1 202.7,782.5 201.6,782.8 C200.6,783.2 199.5,783.4 198.4,783.7 C197.3,783.9 196.2,784.1 195.2,784.3 C194.1,784.5 192.9,784.6 191.8,784.7 C190.7,784.8 189.6,784.8 188.5,784.8 C187.4,784.8 186.3,784.8 185.2,784.7 C184.1,784.6 182.9,784.5 181.8,784.3 C180.8,784.1 179.7,783.9 178.6,783.7 C177.5,783.4 176.4,783.2 175.4,782.8 C174.3,782.5 173.3,782.1 172.2,781.7 C171.2,781.3 170.2,780.9 169.2,780.4 C168.2,780 167.3,779.4 166.3,778.9 C165.4,778.3 164.5,777.8 163.6,777.1 C162.7,776.5 161.8,775.9 161,775.2 C160.2,774.5 159.3,773.8 158.6,773.1 C157.8,772.3 157.1,771.6 156.4,770.8 C155.6,770 155,769.2 154.3,768.3 C153.7,767.5 153.1,766.6 152.5,765.7 C152,764.8 151.5,763.9 151,763 C150.5,762.1 150.1,761.1 149.7,760.2 C149.3,759.2 148.9,758.2 148.6,757.2 C148.3,756.3 148,755.3 147.8,754.3 C147.6,753.2 147.4,752.2 147.2,751.2 C147.1,750.2 147,749.2 146.9,748.1 C146.9,747.1 146.9,746.1 146.9,745.1 C147,744 147,743 147.2,742 C147.3,741 147.5,739.9 147.7,738.9 C147.9,737.9 148.2,736.9 148.5,735.9 C148.8,735 149.1,734 149.5,733 C149.9,732.1 150.6,730.6 150.8,730.2"/>
<path class="hgg" d="M229.2,740.8 C229.2,741.4 229.1,743 229,744.1 C228.9,745.2 228.8,746.3 228.6,747.4 C228.4,748.5 228.1,749.6 227.8,750.7 C227.5,751.7 227.1,752.8 226.7,753.8 C226.3,754.9 225.8,755.9 225.3,756.9 C224.8,757.9 224.2,758.9 223.6,759.8 C223,760.8 222.4,761.7 221.7,762.7 C221,763.6 220.2,764.4 219.5,765.3 C218.7,766.1 217.9,767 217,767.7 C216.2,768.5 215.3,769.3 214.3,770 C213.4,770.7 212.5,771.4 211.5,772 C210.5,772.6 209.4,773.2 208.4,773.8 C207.4,774.3 206.3,774.9 205.2,775.3 C204.1,775.8 203,776.2 201.8,776.6 C200.7,777 199.5,777.3 198.4,777.6 C197.2,777.9 196,778.1 194.8,778.3 C193.6,778.5 192.4,778.7 191.2,778.8 C190,778.9 188.8,778.9 187.6,778.9 C186.4,778.9 185.2,778.9 184,778.8 C182.8,778.7 181.6,778.5 180.4,778.3 C179.2,778.1 178,777.9 176.8,777.6 C175.7,777.3 174.5,777 173.4,776.6 C172.2,776.2 171.1,775.8 170,775.3 C168.9,774.9 167.8,774.3 166.8,773.8 C165.8,773.2 164.7,772.6 163.7,772 C162.7,771.4 161.8,770.7 160.9,770 C159.9,769.3 159,768.5 158.2,767.7 C157.3,767 156.5,766.1 155.7,765.3 C155,764.4 154.2,763.6 153.5,762.7 C152.8,761.7 152.2,760.8 151.6,759.8 C151,758.9 150.4,757.9 149.9,756.9 C149.4,755.9 148.9,754.9 148.5,753.8 C148.1,752.8 147.7,751.7 147.4,750.7 C147.1,749.6 146.8,748.5 146.6,747.4 C146.4,746.3 146.3,745.2 146.2,744.1 C146.1,743 146,741.9 146,740.8 C146,739.7 146.1,738.6 146.2,737.5 C146.3,736.4 146.4,735.3 146.6,734.2 C146.8,733.1 147.1,732 147.4,730.9 C147.7,729.9 148.1,728.8 148.5,727.8 C148.9,726.7 149.4,725.7 149.9,724.7 C150.4,723.7 151,722.7 151.6,721.8 C152.2,720.8 152.8,719.9 153.5,718.9 C154.2,718 155,717.2 155.7,716.3 C156.5,715.5 157.3,714.6 158.2,713.9 C159,713.1 159.9,712.3 160.9,711.6 C161.8,710.9 162.7,710.2 163.7,709.6 C164.7,709 165.8,708.4 166.8,707.8 C167.8,707.3 168.9,706.7 170,706.3 C171.1,705.8 172.2,705.4 173.4,705 C174.5,704.6 175.7,704.3 176.8,704 C178,703.7 179.2,703.5 180.4,703.3 C181.6,703.1 182.8,702.9 184,702.8 C185.2,702.7 186.4,702.7 187.6,702.7 C188.8,702.7 190,702.7 191.2,702.8 C192.4,702.9 193.6,703.1 194.8,703.3 C196,703.5 197.2,703.7 198.4,704 C199.5,704.3 200.7,704.6 201.8,705 C203,705.4 204.1,705.8 205.2,706.3 C206.3,706.7 207.4,707.3 208.4,707.8 C209.4,708.4 210.5,709 211.5,709.6 C212.5,710.2 213.4,710.9 214.3,711.6 C215.3,712.3 216.2,713.1 217,713.9 C217.9,714.6 218.7,715.5 219.5,716.3 C220.2,717.2 221,718 221.7,718.9 C222.4,719.9 223,720.8 223.6,721.7 C224.2,722.7 224.8,723.7 225.3,724.7 C225.8,725.7 226.3,726.7 226.7,727.8 C227.1,728.8 227.5,729.9 227.8,730.9 C228.1,732 228.4,733.1 228.6,734.2 C228.8,735.3 228.9,736.4 229,737.5 C229.1,738.6 229.2,740.2 229.2,740.8"/>
<path class="hgg" d="M228.6,735.2 C228.6,735.8 228.5,737.4 228.4,738.5 C228.3,739.6 228.2,740.7 228,741.8 C227.8,742.9 227.5,744 227.2,745.1 C226.9,746.1 226.5,747.2 226.1,748.2 C225.7,749.3 225.2,750.3 224.7,751.3 C224.2,752.3 223.6,753.3 223,754.2 C222.4,755.2 221.7,756.1 221,757.1 C220.3,758 219.6,758.8 218.8,759.7 C218,760.5 217.2,761.4 216.3,762.1 C215.5,762.9 214.6,763.7 213.6,764.4 C212.7,765.1 211.7,765.8 210.7,766.4 C209.7,767 208.7,767.6 207.6,768.2 C206.6,768.7 205.5,769.3 204.4,769.7 C203.3,770.2 202.2,770.6 201,771 C199.9,771.4 198.7,771.7 197.5,772 C196.4,772.3 195.2,772.5 194,772.7 C192.8,772.9 191.6,773.1 190.4,773.2 C189.1,773.3 187.9,773.3 186.7,773.3 C185.5,773.3 184.3,773.3 183,773.2 C181.8,773.1 180.6,772.9 179.4,772.7 C178.2,772.5 177,772.3 175.9,772 C174.7,771.7 173.5,771.4 172.4,771 C171.2,770.6 170.1,770.2 169,769.7 C167.9,769.3 166.8,768.7 165.8,768.2 C164.7,767.6 163.7,767 162.7,766.4 C161.7,765.8 160.7,765.1 159.8,764.4 C158.8,763.7 157.9,762.9 157.1,762.1 C156.2,761.4 155.4,760.5 154.6,759.7 C153.8,758.8 153.1,758 152.4,757.1 C151.7,756.1 151,755.2 150.4,754.2 C149.8,753.3 149.2,752.3 148.7,751.3 C148.2,750.3 147.7,749.3 147.3,748.2 C146.9,747.2 146.5,746.1 146.2,745.1 C145.9,744 145.6,742.9 145.4,741.8 C145.2,740.7 145.1,739.6 145,738.5 C144.9,737.4 144.8,736.3 144.8,735.2 C144.8,734.1 144.9,733 145,731.9 C145.1,730.8 145.2,729.7 145.4,728.6 C145.6,727.5 145.9,726.4 146.2,725.3 C146.5,724.3 146.9,723.2 147.3,722.2 C147.7,721.1 148.2,720.1 148.7,719.1 C149.2,718.1 149.8,717.1 150.4,716.1 C151,715.2 151.7,714.3 152.4,713.3 C153.1,712.4 153.8,711.6 154.6,710.7 C155.4,709.9 156.2,709 157.1,708.3 C157.9,707.5 158.8,706.7 159.8,706 C160.7,705.3 161.7,704.6 162.7,704 C163.7,703.4 164.7,702.8 165.7,702.2 C166.8,701.7 167.9,701.1 169,700.7 C170.1,700.2 171.2,699.8 172.4,699.4 C173.5,699 174.7,698.7 175.9,698.4 C177,698.1 178.2,697.9 179.4,697.7 C180.6,697.5 181.8,697.3 183,697.2 C184.3,697.1 185.5,697.1 186.7,697.1 C187.9,697.1 189.1,697.1 190.4,697.2 C191.6,697.3 192.8,697.5 194,697.7 C195.2,697.9 196.4,698.1 197.5,698.4 C198.7,698.7 199.9,699 201,699.4 C202.2,699.8 203.3,700.2 204.4,700.7 C205.5,701.1 206.6,701.7 207.6,702.2 C208.7,702.8 209.7,703.4 210.7,704 C211.7,704.6 212.7,705.3 213.6,706 C214.6,706.7 215.5,707.5 216.3,708.3 C217.2,709 218,709.9 218.8,710.7 C219.6,711.6 220.3,712.4 221,713.3 C221.7,714.3 222.4,715.2 223,716.1 C223.6,717.1 224.2,718.1 224.7,719.1 C225.2,720.1 225.7,721.1 226.1,722.2 C226.5,723.2 226.9,724.3 227.2,725.3 C227.5,726.4 227.8,727.5 228,728.6 C228.2,729.7 228.3,730.8 228.4,731.9 C228.5,733 228.6,734.6 228.6,735.2"/>
<path class="hgg" d="M228,729.6 C228,730.2 227.9,731.8 227.8,732.9 C227.7,734 227.6,735.1 227.4,736.2 C227.1,737.3 226.9,738.4 226.6,739.5 C226.2,740.5 225.9,741.6 225.5,742.6 C225,743.7 224.6,744.7 224,745.7 C223.5,746.7 223,747.7 222.3,748.6 C221.7,749.6 221.1,750.5 220.4,751.5 C219.7,752.4 218.9,753.2 218.1,754.1 C217.3,754.9 216.5,755.8 215.6,756.5 C214.8,757.3 213.9,758.1 212.9,758.8 C212,759.5 211,760.2 210,760.8 C209,761.4 208,762 206.9,762.6 C205.8,763.1 204.7,763.7 203.6,764.1 C202.5,764.6 201.4,765 200.2,765.4 C199.1,765.8 197.9,766.1 196.7,766.4 C195.5,766.7 194.3,766.9 193.1,767.1 C191.9,767.3 190.7,767.5 189.5,767.6 C188.3,767.7 187,767.7 185.8,767.7 C184.6,767.7 183.3,767.7 182.1,767.6 C180.9,767.5 179.7,767.3 178.5,767.1 C177.3,766.9 176.1,766.7 174.9,766.4 C173.7,766.1 172.5,765.8 171.4,765.4 C170.2,765 169.1,764.6 168,764.1 C166.9,763.7 165.8,763.1 164.7,762.6 C163.6,762 162.6,761.4 161.6,760.8 C160.6,760.2 159.6,759.5 158.7,758.8 C157.7,758.1 156.8,757.3 156,756.5 C155.1,755.8 154.3,754.9 153.5,754.1 C152.7,753.2 151.9,752.4 151.2,751.5 C150.5,750.5 149.9,749.6 149.3,748.6 C148.6,747.7 148.1,746.7 147.6,745.7 C147,744.7 146.6,743.7 146.1,742.6 C145.7,741.6 145.4,740.5 145,739.5 C144.7,738.4 144.5,737.3 144.2,736.2 C144,735.1 143.9,734 143.8,732.9 C143.7,731.8 143.6,730.7 143.6,729.6 C143.6,728.5 143.7,727.4 143.8,726.3 C143.9,725.2 144,724.1 144.2,723 C144.5,721.9 144.7,720.8 145,719.7 C145.4,718.7 145.7,717.6 146.1,716.6 C146.6,715.5 147,714.5 147.6,713.5 C148.1,712.5 148.6,711.5 149.3,710.6 C149.9,709.6 150.5,708.7 151.2,707.7 C151.9,706.8 152.7,706 153.5,705.1 C154.3,704.3 155.1,703.4 156,702.7 C156.8,701.9 157.7,701.1 158.7,700.4 C159.6,699.7 160.6,699 161.6,698.4 C162.6,697.8 163.6,697.2 164.7,696.6 C165.8,696.1 166.9,695.5 168,695.1 C169.1,694.6 170.2,694.2 171.4,693.8 C172.5,693.4 173.7,693.1 174.9,692.8 C176.1,692.5 177.3,692.3 178.5,692.1 C179.7,691.9 180.9,691.7 182.1,691.6 C183.3,691.5 184.6,691.5 185.8,691.5 C187,691.5 188.3,691.5 189.5,691.6 C190.7,691.7 191.9,691.9 193.1,692.1 C194.3,692.3 195.5,692.5 196.7,692.8 C197.9,693.1 199.1,693.4 200.2,693.8 C201.4,694.2 202.5,694.6 203.6,695.1 C204.7,695.5 205.8,696.1 206.9,696.6 C208,697.2 209,697.8 210,698.4 C211,699 212,699.7 212.9,700.4 C213.9,701.1 214.8,701.9 215.6,702.7 C216.5,703.4 217.3,704.3 218.1,705.1 C218.9,706 219.7,706.8 220.4,707.7 C221.1,708.7 221.7,709.6 222.3,710.5 C223,711.5 223.5,712.5 224,713.5 C224.6,714.5 225,715.5 225.5,716.6 C225.9,717.6 226.2,718.7 226.6,719.7 C226.9,720.8 227.1,721.9 227.4,723 C227.6,724.1 227.7,725.2 227.8,726.3 C227.9,727.4 228,729 228,729.6"/>
<path class="hgg" d="M227.4,724 C227.4,724.6 227.3,726.2 227.2,727.3 C227.1,728.4 227,729.5 226.8,730.6 C226.5,731.7 226.3,732.8 226,733.9 C225.6,734.9 225.3,736 224.8,737 C224.4,738.1 223.9,739.1 223.4,740.1 C222.9,741.1 222.3,742.1 221.7,743 C221.1,744 220.4,744.9 219.7,745.9 C219,746.8 218.3,747.6 217.5,748.5 C216.7,749.3 215.8,750.2 215,750.9 C214.1,751.7 213.2,752.5 212.2,753.2 C211.3,753.9 210.3,754.6 209.3,755.2 C208.3,755.8 207.2,756.4 206.2,757 C205.1,757.5 204,758.1 202.9,758.5 C201.7,759 200.6,759.4 199.4,759.8 C198.3,760.2 197.1,760.5 195.9,760.8 C194.7,761.1 193.5,761.3 192.3,761.5 C191.1,761.7 189.8,761.9 188.6,762 C187.4,762.1 186.1,762.1 184.9,762.1 C183.7,762.1 182.4,762.1 181.2,762 C180,761.9 178.7,761.7 177.5,761.5 C176.3,761.3 175.1,761.1 173.9,760.8 C172.7,760.5 171.5,760.2 170.4,759.8 C169.2,759.4 168.1,759 166.9,758.5 C165.8,758.1 164.7,757.5 163.7,757 C162.6,756.4 161.5,755.8 160.5,755.2 C159.5,754.6 158.5,753.9 157.6,753.2 C156.6,752.5 155.7,751.7 154.8,750.9 C154,750.2 153.1,749.3 152.3,748.5 C151.5,747.6 150.8,746.8 150.1,745.9 C149.4,744.9 148.7,744 148.1,743 C147.5,742.1 146.9,741.1 146.4,740.1 C145.9,739.1 145.4,738.1 145,737 C144.5,736 144.2,734.9 143.8,733.9 C143.5,732.8 143.3,731.7 143,730.6 C142.8,729.5 142.7,728.4 142.6,727.3 C142.5,726.2 142.4,725.1 142.4,724 C142.4,722.9 142.5,721.8 142.6,720.7 C142.7,719.6 142.8,718.5 143,717.4 C143.3,716.3 143.5,715.2 143.8,714.1 C144.2,713.1 144.5,712 145,711 C145.4,709.9 145.9,708.9 146.4,707.9 C146.9,706.9 147.5,705.9 148.1,705 C148.7,704 149.4,703.1 150.1,702.1 C150.8,701.2 151.5,700.4 152.3,699.5 C153.1,698.7 154,697.8 154.8,697.1 C155.7,696.3 156.6,695.5 157.6,694.8 C158.5,694.1 159.5,693.4 160.5,692.8 C161.5,692.2 162.6,691.6 163.6,691 C164.7,690.5 165.8,689.9 166.9,689.5 C168.1,689 169.2,688.6 170.4,688.2 C171.5,687.8 172.7,687.5 173.9,687.2 C175.1,686.9 176.3,686.7 177.5,686.5 C178.7,686.3 180,686.1 181.2,686 C182.4,685.9 183.7,685.9 184.9,685.9 C186.1,685.9 187.4,685.9 188.6,686 C189.8,686.1 191.1,686.3 192.3,686.5 C193.5,686.7 194.7,686.9 195.9,687.2 C197.1,687.5 198.3,687.8 199.4,688.2 C200.6,688.6 201.7,689 202.9,689.5 C204,689.9 205.1,690.5 206.2,691 C207.2,691.6 208.3,692.2 209.3,692.8 C210.3,693.4 211.3,694.1 212.2,694.8 C213.2,695.5 214.1,696.3 215,697.1 C215.8,697.8 216.7,698.7 217.5,699.5 C218.3,700.4 219,701.2 219.7,702.1 C220.4,703.1 221.1,704 221.7,704.9 C222.3,705.9 222.9,706.9 223.4,707.9 C223.9,708.9 224.4,709.9 224.8,711 C225.3,712 225.6,713.1 226,714.1 C226.3,715.2 226.5,716.3 226.8,717.4 C227,718.5 227.1,719.6 227.2,720.7 C227.3,721.8 227.4,723.4 227.4,724"/>
<path class="hgg" d="M162.3,691.4 C162.6,691.2 163.4,690.5 163.9,690 C164.5,689.6 165,689.2 165.6,688.7 C166.2,688.3 166.7,687.9 167.3,687.5 C167.9,687.1 168.5,686.8 169.1,686.4 C169.7,686 170.4,685.7 171,685.4 C171.6,685 172.3,684.7 172.9,684.4 C173.6,684.1 174.2,683.8 174.9,683.5 C175.6,683.3 176.2,683 176.9,682.8 C177.6,682.5 178.3,682.3 179,682.1 C179.7,681.9 180.4,681.7 181.1,681.5 C181.8,681.4 182.5,681.2 183.2,681.1 C183.9,680.9 184.7,680.8 185.4,680.7 C186.1,680.6 186.8,680.5 187.5,680.5 C188.3,680.4 189,680.3 189.7,680.3 C190.5,680.3 191.2,680.2 191.9,680.2 C192.6,680.2 193.4,680.3 194.1,680.3 C194.8,680.3 195.6,680.4 196.3,680.5 C197,680.5 197.7,680.6 198.5,680.7 C199.2,680.8 199.9,680.9 200.6,681.1 C201.3,681.2 202,681.4 202.7,681.5 C203.4,681.7 204.1,681.9 204.8,682.1 C205.5,682.3 206.2,682.5 206.9,682.8 C207.6,683 208.3,683.3 208.9,683.5 C209.6,683.8 210.3,684.1 210.9,684.4 C211.6,684.7 212.2,685 212.8,685.4 C213.5,685.7 214.1,686 214.7,686.4 C215.3,686.8 215.9,687.1 216.5,687.5 C217.1,687.9 217.7,688.3 218.2,688.7 C218.8,689.2 219.4,689.6 219.9,690 C220.5,690.5 221,690.9 221.5,691.4 C222,691.9 222.5,692.4 223,692.9 C223.5,693.3 224,693.9 224.4,694.4 C224.9,694.9 225.3,695.4 225.8,695.9 C226.2,696.5 226.6,697 227,697.6 C227.4,698.1 227.8,698.7 228.1,699.3 C228.5,699.9 228.9,700.5 229.2,701 C229.5,701.6 229.8,702.2 230.1,702.8 C230.4,703.5 230.7,704.1 231,704.7 C231.2,705.3 231.5,705.9 231.7,706.6 C231.9,707.2 232.1,707.8 232.3,708.5 C232.5,709.1 232.7,709.8 232.8,710.4 C233,711.1 233.1,711.7 233.2,712.4 C233.3,713 233.4,713.7 233.5,714.4 C233.6,715 233.7,715.7 233.7,716.3 C233.7,717 233.8,717.7 233.8,718.3 C233.8,719 233.7,719.7 233.7,720.3 C233.7,721 233.6,721.7 233.5,722.3 C233.4,723 233.3,723.6 233.2,724.3 C233.1,724.9 233,725.6 232.8,726.3 C232.7,726.9 232.5,727.5 232.3,728.2 C232.1,728.8 231.9,729.5 231.7,730.1 C231.5,730.7 231.2,731.4 231,732 C230.7,732.6 230.4,733.2 230.1,733.8 C229.8,734.4 229.3,735.3 229.2,735.6"/>
<path class="hgg" d="M174.7,681.9 C175,681.7 175.9,681.1 176.5,680.7 C177.1,680.4 177.7,680 178.3,679.7 C179,679.4 179.6,679.1 180.2,678.7 C180.9,678.4 181.5,678.2 182.2,677.9 C182.8,677.6 183.5,677.4 184.2,677.1 C184.9,676.9 185.5,676.7 186.2,676.5 C186.9,676.3 187.6,676.1 188.3,675.9 C189,675.7 189.7,675.6 190.4,675.4 C191.1,675.3 191.8,675.2 192.5,675.1 C193.2,675 193.9,674.9 194.6,674.8 C195.3,674.7 196.1,674.7 196.8,674.7 C197.5,674.6 198.2,674.6 198.9,674.6 C199.7,674.6 200.4,674.6 201.1,674.7 C201.8,674.7 202.5,674.7 203.2,674.8 C204,674.9 204.7,675 205.4,675.1 C206.1,675.2 206.8,675.3 207.5,675.4 C208.2,675.6 208.9,675.7 209.6,675.9 C210.3,676.1 211,676.3 211.7,676.5 C212.3,676.7 213,676.9 213.7,677.1 C214.4,677.4 215,677.6 215.7,677.9 C216.3,678.2 217,678.4 217.6,678.7 C218.3,679.1 218.9,679.4 219.5,679.7 C220.1,680 220.8,680.4 221.4,680.7 C222,681.1 222.5,681.5 223.1,681.9 C223.7,682.3 224.3,682.7 224.8,683.1 C225.4,683.5 225.9,683.9 226.5,684.4 C227,684.8 227.5,685.3 228,685.7 C228.6,686.2 229,686.7 229.5,687.2 C230,687.7 230.5,688.2 230.9,688.7 C231.4,689.2 231.8,689.8 232.2,690.3 C232.7,690.8 233.1,691.4 233.5,691.9 C233.8,692.5 234.2,693.1 234.6,693.6 C234.9,694.2 235.3,694.8 235.6,695.4 C235.9,696 236.2,696.6 236.5,697.2 C236.8,697.8 237.1,698.4 237.4,699 C237.6,699.6 237.9,700.3 238.1,700.9 C238.3,701.5 238.5,702.2 238.7,702.8 C238.9,703.5 239.1,704.1 239.2,704.8 C239.3,705.4 239.5,706.1 239.6,706.7 C239.7,707.4 239.8,708 239.9,708.7 C239.9,709.3 240,710 240,710.7 C240.1,711.3 240.1,712 240.1,712.7 C240.1,713.3 240.1,714 240,714.7 C240,715.3 239.9,716 239.9,716.6 C239.8,717.3 239.7,718 239.6,718.6 C239.5,719.3 239.3,719.9 239.2,720.6 C239.1,721.2 238.9,721.9 238.7,722.5 C238.5,723.2 238.3,723.8 238.1,724.4 C237.9,725.1 237.6,725.7 237.4,726.3 C237.1,726.9 236.8,727.5 236.5,728.1 C236.2,728.8 235.9,729.4 235.6,729.9 C235.3,730.5 234.9,731.1 234.6,731.7 C234.2,732.3 233.8,732.8 233.5,733.4 C233.1,734 232.7,734.5 232.2,735 C231.8,735.6 231.4,736.1 230.9,736.6 C230.5,737.1 229.8,737.9 229.5,738.1"/>
<path class="hgg" d="M170.9,688 C171.1,687.7 171.6,686.8 172,686.3 C172.4,685.7 172.8,685.2 173.2,684.6 C173.6,684.1 174,683.6 174.5,683.1 C174.9,682.5 175.4,682 175.9,681.5 C176.3,681 176.8,680.6 177.3,680.1 C177.8,679.6 178.3,679.2 178.9,678.7 C179.4,678.3 179.9,677.8 180.5,677.4 C181,677 181.6,676.6 182.1,676.2 C182.7,675.8 183.3,675.5 183.9,675.1 C184.5,674.7 185.1,674.4 185.7,674 C186.3,673.7 186.9,673.4 187.6,673.1 C188.2,672.8 188.8,672.5 189.5,672.2 C190.1,672 190.8,671.7 191.4,671.5 C192.1,671.2 192.8,671 193.4,670.8 C194.1,670.6 194.8,670.4 195.5,670.2 C196.2,670.1 196.8,669.9 197.5,669.8 C198.2,669.6 198.9,669.5 199.6,669.4 C200.3,669.3 201,669.2 201.7,669.2 C202.4,669.1 203.1,669 203.8,669 C204.5,669 205.2,669 205.9,669 C206.7,669 207.4,669 208.1,669 C208.8,669 209.5,669.1 210.2,669.2 C210.9,669.2 211.6,669.3 212.3,669.4 C213,669.5 213.7,669.6 214.4,669.8 C215.1,669.9 215.7,670.1 216.4,670.2 C217.1,670.4 217.8,670.6 218.5,670.8 C219.1,671 219.8,671.2 220.5,671.5 C221.1,671.7 221.8,672 222.4,672.2 C223.1,672.5 223.7,672.8 224.3,673.1 C225,673.4 225.6,673.7 226.2,674 C226.8,674.4 227.4,674.7 228,675.1 C228.6,675.5 229.2,675.8 229.8,676.2 C230.3,676.6 230.9,677 231.4,677.4 C232,677.8 232.5,678.3 233,678.7 C233.6,679.2 234.1,679.6 234.6,680.1 C235.1,680.6 235.6,681 236,681.5 C236.5,682 237,682.5 237.4,683.1 C237.9,683.6 238.3,684.1 238.7,684.6 C239.1,685.2 239.5,685.7 239.9,686.3 C240.3,686.8 240.7,687.4 241,688 C241.4,688.5 241.7,689.1 242,689.7 C242.4,690.3 242.7,690.9 242.9,691.5 C243.2,692.1 243.5,692.7 243.8,693.4 C244,694 244.2,694.6 244.5,695.2 C244.7,695.9 244.9,696.5 245.1,697.2 C245.3,697.8 245.4,698.4 245.6,699.1 C245.7,699.7 245.8,700.4 246,701 C246.1,701.7 246.2,702.4 246.2,703 C246.3,703.7 246.4,704.3 246.4,705 C246.4,705.7 246.4,706.3 246.4,707 C246.4,707.7 246.4,708.3 246.4,709 C246.4,709.7 246.3,710.3 246.2,711 C246.2,711.6 246.1,712.3 246,713 C245.8,713.6 245.7,714.3 245.6,714.9 C245.4,715.6 245.3,716.2 245.1,716.8 C244.9,717.5 244.7,718.1 244.5,718.8 C244.2,719.4 244,720 243.8,720.6 C243.5,721.3 243.2,721.9 242.9,722.5 C242.7,723.1 242.4,723.7 242,724.3 C241.7,724.9 241.4,725.5 241,726 C240.7,726.6 240.3,727.2 239.9,727.7 C239.5,728.3 239.1,728.8 238.7,729.4 C238.3,729.9 237.9,730.4 237.4,730.9 C237,731.5 236.5,732 236,732.5 C235.6,733 235.1,733.4 234.6,733.9 C234.1,734.4 233.6,734.8 233,735.3 C232.5,735.7 232,736.2 231.4,736.6 C230.9,737 230,737.6 229.8,737.8"/>
<path class="hgg" d="M176.6,685.9 C176.7,685.6 177.2,684.7 177.5,684.1 C177.8,683.5 178.1,682.9 178.5,682.3 C178.8,681.7 179.2,681.2 179.6,680.6 C179.9,680.1 180.3,679.5 180.7,679 C181.1,678.4 181.6,677.9 182,677.4 C182.4,676.9 182.9,676.4 183.4,675.9 C183.8,675.4 184.3,674.9 184.8,674.4 C185.3,674 185.8,673.5 186.3,673.1 C186.8,672.6 187.4,672.2 187.9,671.8 C188.4,671.4 189,671 189.6,670.6 C190.1,670.2 190.7,669.8 191.3,669.4 C191.9,669.1 192.4,668.7 193,668.4 C193.7,668.1 194.3,667.7 194.9,667.4 C195.5,667.1 196.1,666.9 196.8,666.6 C197.4,666.3 198,666.1 198.7,665.8 C199.3,665.6 200,665.4 200.7,665.2 C201.3,665 202,664.8 202.7,664.6 C203.3,664.4 204,664.3 204.7,664.1 C205.4,664 206,663.9 206.7,663.8 C207.4,663.7 208.1,663.6 208.8,663.5 C209.5,663.4 210.2,663.4 210.9,663.4 C211.6,663.3 212.3,663.3 213,663.3 C213.7,663.3 214.4,663.3 215.1,663.4 C215.7,663.4 216.4,663.4 217.1,663.5 C217.8,663.6 218.5,663.7 219.2,663.8 C219.9,663.9 220.6,664 221.2,664.1 C221.9,664.3 222.6,664.4 223.3,664.6 C223.9,664.8 224.6,665 225.3,665.2 C225.9,665.4 226.6,665.6 227.2,665.8 C227.9,666.1 228.5,666.3 229.2,666.6 C229.8,666.9 230.4,667.1 231.1,667.4 C231.7,667.7 232.3,668.1 232.9,668.4 C233.5,668.7 234.1,669.1 234.7,669.4 C235.2,669.8 235.8,670.2 236.4,670.6 C236.9,671 237.5,671.4 238,671.8 C238.6,672.2 239.1,672.6 239.6,673.1 C240.1,673.5 240.6,674 241.1,674.4 C241.6,674.9 242.1,675.4 242.6,675.9 C243,676.4 243.5,676.9 243.9,677.4 C244.4,677.9 244.8,678.4 245.2,679 C245.6,679.5 246,680.1 246.4,680.6 C246.8,681.2 247.1,681.7 247.5,682.3 C247.8,682.9 248.1,683.5 248.5,684.1 C248.8,684.7 249.1,685.3 249.4,685.9 C249.6,686.5 249.9,687.1 250.2,687.7 C250.4,688.3 250.6,688.9 250.9,689.6 C251.1,690.2 251.3,690.8 251.4,691.5 C251.6,692.1 251.8,692.8 251.9,693.4 C252.1,694.1 252.2,694.7 252.3,695.4 C252.4,696 252.5,696.7 252.6,697.4 C252.7,698 252.7,698.7 252.7,699.3 C252.8,700 252.8,700.7 252.8,701.3 C252.8,702 252.8,702.7 252.7,703.3 C252.7,704 252.7,704.6 252.6,705.3 C252.5,706 252.4,706.6 252.3,707.3 C252.2,707.9 252.1,708.6 251.9,709.2 C251.8,709.9 251.6,710.5 251.4,711.2 C251.3,711.8 251.1,712.5 250.9,713.1 C250.6,713.7 250.4,714.3 250.2,715 C249.9,715.6 249.6,716.2 249.4,716.8 C249.1,717.4 248.8,718 248.5,718.6 C248.1,719.2 247.8,719.8 247.5,720.4 C247.1,720.9 246.8,721.5 246.4,722 C246,722.6 245.6,723.2 245.2,723.7 C244.8,724.2 244.4,724.8 243.9,725.3 C243.5,725.8 243,726.3 242.6,726.8 C242.1,727.3 241.6,727.8 241.1,728.2 C240.6,728.7 240.1,729.2 239.6,729.6 C239.1,730 238.6,730.5 238,730.9 C237.5,731.3 236.9,731.7 236.4,732.1 C235.8,732.5 235.2,732.9 234.7,733.2 C234.1,733.6 233.5,733.9 232.9,734.3 C232.3,734.6 231.7,734.9 231.1,735.2 C230.4,735.5 229.5,735.9 229.2,736.1"/>
<path class="hgg" d="M182.2,685.8 C182.2,685.5 182.5,684.5 182.7,683.9 C182.9,683.3 183.2,682.7 183.4,682 C183.7,681.4 183.9,680.8 184.2,680.2 C184.5,679.6 184.8,679 185.1,678.4 C185.4,677.8 185.7,677.2 186.1,676.7 C186.4,676.1 186.8,675.5 187.1,675 C187.5,674.4 187.9,673.9 188.3,673.3 C188.7,672.8 189.1,672.3 189.5,671.7 C190,671.2 190.4,670.7 190.9,670.2 C191.3,669.7 191.8,669.3 192.3,668.8 C192.8,668.3 193.3,667.9 193.8,667.4 C194.3,667 194.8,666.5 195.3,666.1 C195.9,665.7 196.4,665.3 197,664.9 C197.5,664.5 198.1,664.1 198.7,663.8 C199.2,663.4 199.8,663.1 200.4,662.7 C201,662.4 201.6,662.1 202.2,661.8 C202.8,661.5 203.4,661.2 204.1,660.9 C204.7,660.7 205.3,660.4 205.9,660.2 C206.6,659.9 207.2,659.7 207.9,659.5 C208.5,659.3 209.2,659.1 209.8,658.9 C210.5,658.8 211.2,658.6 211.8,658.5 C212.5,658.3 213.2,658.2 213.9,658.1 C214.5,658 215.2,657.9 215.9,657.9 C216.6,657.8 217.3,657.7 217.9,657.7 C218.6,657.7 219.3,657.6 220,657.6 C220.7,657.6 221.4,657.7 222,657.7 C222.7,657.7 223.4,657.8 224.1,657.9 C224.8,657.9 225.4,658 226.1,658.1 C226.8,658.2 227.5,658.3 228.1,658.5 C228.8,658.6 229.5,658.8 230.1,658.9 C230.8,659.1 231.4,659.3 232.1,659.5 C232.7,659.7 233.4,659.9 234,660.2 C234.7,660.4 235.3,660.7 235.9,660.9 C236.5,661.2 237.2,661.5 237.8,661.8 C238.4,662.1 239,662.4 239.6,662.7 C240.2,663.1 240.7,663.4 241.3,663.8 C241.9,664.1 242.5,664.5 243,664.9 C243.6,665.3 244.1,665.7 244.6,666.1 C245.2,666.5 245.7,667 246.2,667.4 C246.7,667.9 247.2,668.3 247.7,668.8 C248.2,669.3 248.6,669.7 249.1,670.2 C249.5,670.7 250,671.2 250.4,671.7 C250.9,672.3 251.3,672.8 251.7,673.3 C252.1,673.9 252.5,674.4 252.8,675 C253.2,675.5 253.6,676.1 253.9,676.7 C254.2,677.2 254.6,677.8 254.9,678.4 C255.2,679 255.5,679.6 255.8,680.2 C256,680.8 256.3,681.4 256.5,682 C256.8,682.7 257,683.3 257.2,683.9 C257.4,684.5 257.6,685.2 257.8,685.8 C258,686.5 258.2,687.1 258.3,687.8 C258.4,688.4 258.6,689.1 258.7,689.7 C258.8,690.4 258.9,691 258.9,691.7 C259,692.4 259.1,693 259.1,693.7 C259.1,694.3 259.2,695 259.2,695.7 C259.2,696.3 259.1,697 259.1,697.7 C259.1,698.3 259,699 258.9,699.6 C258.9,700.3 258.8,701 258.7,701.6 C258.6,702.3 258.4,702.9 258.3,703.6 C258.2,704.2 258,704.9 257.8,705.5 C257.6,706.1 257.4,706.8 257.2,707.4 C257,708 256.8,708.7 256.5,709.3 C256.3,709.9 256,710.5 255.8,711.1 C255.5,711.7 255.2,712.3 254.9,712.9 C254.6,713.5 254.2,714.1 253.9,714.7 C253.6,715.2 253.2,715.8 252.8,716.4 C252.5,716.9 252.1,717.5 251.7,718 C251.3,718.5 250.9,719.1 250.4,719.6 C250,720.1 249.5,720.6 249.1,721.1 C248.6,721.6 248.2,722.1 247.7,722.5 C247.2,723 246.7,723.5 246.2,723.9 C245.7,724.4 245.2,724.8 244.6,725.2 C244.1,725.6 243.6,726 243,726.4 C242.5,726.8 241.9,727.2 241.3,727.6 C240.7,727.9 240.2,728.3 239.6,728.6 C239,728.9 238.4,729.2 237.8,729.5 C237.2,729.8 236.5,730.1 235.9,730.4 C235.3,730.7 234.7,730.9 234,731.2 C233.4,731.4 232.7,731.6 232.1,731.8 C231.4,732 230.4,732.3 230.1,732.4"/>
<path class="hgg" d="M172.4,725 C173.8,726.6 177.1,731.9 180.8,734.7 C184.5,737.5 190.1,740.3 194.7,741.7 C199.3,743.1 204.9,743.2 208.6,743.1 C212.3,743 215.6,741.4 217,741"/>
<path class="hgg" d="M185,725 C186.6,725.9 190.8,729.2 194.7,730.6 C198.6,732 204.6,732.8 208.6,733.3 C212.6,733.8 216.8,733.3 218.4,733.3"/>
<path class="hgg" d="M169.1,719.2 L172.4,725"/>
<path class="hgg" d="M166.9,725 C167.4,725.9 169.9,728.8 169.7,730.6 C169.5,732.5 168.1,735 165.5,736.1 C162.9,737.2 156.2,737.3 154.4,737.5"/>
<path class="hkg" d="M172.7,683.1 C170.6,683.9 163.7,686.2 159.9,687.6 C156.1,689 152.8,690.4 150,691.5 C147.2,692.6 147.2,692.5 143.3,694.2 C139.4,695.9 131.7,699.1 126.7,701.7 C121.7,704.3 117.2,706.7 113.3,710 C109.4,713.3 106.1,717.8 103.3,721.7 C100.5,725.6 98.2,730 96.7,733.3 C95.2,736.6 95.1,739.8 94.2,741.7 C93.3,743.7 92,743.5 91.5,745 C91,746.5 91,748.9 91.5,750.5 C92,752.1 94.3,753.3 94.5,754.5 C94.7,755.7 92.8,756.2 92.5,757.5 C92.2,758.8 92.2,761.1 93,762.5 C93.8,763.9 94.7,765 97,766 C99.3,767 102.6,767.9 106.7,768.3 C110.8,768.7 117.3,769 121.7,768.5 C126.1,768 130,766.4 133.3,765 C136.6,763.6 139.6,762 141.7,760 C143.8,758 145.1,754.4 145.8,753.3"/>
<path class="hgg" d="M95,743.3 C95.3,744.1 94.5,746.9 96.7,748.3 C98.9,749.7 103.3,751.3 108.3,751.7 C113.3,752.1 121.7,751.6 126.7,750.8 C131.7,750 135.5,748.2 138.3,746.7 C141.1,745.2 142.5,742.5 143.3,741.7"/>
<path class="hgg" d="M93.3,755 C94.4,755.5 96.7,757.5 100,758.3 C103.3,759.1 108.3,760 113.3,760 C118.3,760 125.3,759.4 130,758.3 C134.7,757.2 139.8,754.1 141.7,753.3"/>
<path class="hgg" d="M108.3,719.2 C110.8,717.7 118.3,712.2 123.3,710 C128.3,707.8 133.9,706.6 138.3,705.8 C142.8,705 148.1,705.1 150,705"/>
<path class="hk" d="M172.7,683.1 C174.2,681.7 178.8,677.2 181.6,674.7 C184.4,672.2 186.9,670.1 189.5,667.8 C192.1,665.5 195.1,663 197.4,660.9 C199.7,658.8 200.8,657.1 203.3,655 C205.9,652.9 209.4,650.6 212.7,648.5 C216,646.4 219.5,643.5 222.9,642.4 C226.3,641.2 229.7,641.4 233.1,641.6 C236.5,641.8 239.8,642.6 243.2,643.8 C246.6,645 250.2,646.7 253.4,648.9 C256.6,651.1 259.5,653.9 262.2,656.9 C264.9,659.9 267.7,663.7 269.5,667.1 C271.3,670.5 272.4,673.9 273.1,677.3 C273.8,680.7 273.9,684.1 273.8,687.5 C273.7,690.9 273.4,694.6 272.4,697.7 C271.4,700.9 269.9,703.7 268,706.4 C266.1,709.1 263.4,711.3 260.7,713.7 C258,716.1 254.9,718.6 252,721 C249.1,723.4 245.9,726.1 243.2,728.3 C240.5,730.5 238.2,732.2 236,734.1 C233.8,736 231.3,738.3 230.1,739.9 C228.9,741.5 229.1,743 228.9,743.6"/>
<path class="hg" d="M206.6,658.3 C207.8,657.5 211.1,654.8 214,653.5 C216.9,652.2 220.9,651 224.1,650.5 C227.3,650 230.1,650.3 233,650.6 C235.9,650.9 238.2,650.6 241.6,652.5 C245,654.4 250,658.7 253.2,662.2 C256.4,665.8 259.1,669.6 261,673.8 C262.9,678 264.2,684.5 264.9,687.4 C265.5,690.3 264.9,690.6 264.9,691.3"/>
<path class="hg" d="M198.8,664.1 C200.2,663.3 203.8,660.8 207,659.5 C210.2,658.2 214.8,657 218.3,656.4 C221.8,655.8 224.8,655.9 228,656 C231.2,656.1 234.1,655.6 237.7,657.3 C241.2,659 246.1,662.7 249.3,666.1 C252.5,669.5 255.2,673.8 257.1,677.7 C259.1,681.6 260.4,687.5 261,689.4"/>
<path class="hg" d="M261,689.4 C259.7,689.7 254.4,690.5 253.2,691.3 C251.9,692.1 253.2,693.7 253.5,694.2 C253.8,694.7 253.2,694.7 255.1,694.2 C257,693.7 263.3,691.8 264.9,691.3"/>
<path class="hg" d="M264,700.5 C263.8,700.6 264.5,700.3 262.9,701 C261.3,701.7 255.6,703.7 254.2,704.9 C252.8,706.1 254.2,706.7 254.5,708 C254.8,709.3 254.9,712.7 256.1,712.7 C257.3,712.7 260.8,709.8 261.9,707.8 C263,705.8 262.7,702.1 262.9,701"/>
<path class="hg" d="M229.8,746.4 C229.8,747.7 229.7,749.1 229.6,750.4 C229.4,751.7 229.2,753 228.9,754.3 C228.6,755.6 228.2,756.9 227.8,758.2 C227.3,759.4 226.8,760.7 226.2,761.9 C225.6,763.1 225,764.3 224.3,765.4 C223.5,766.6 222.8,767.7 221.9,768.8 C221.1,769.9 220.2,770.9 219.2,771.9 C218.2,772.9 217.2,773.8 216.1,774.7 C215.1,775.6 213.9,776.4 212.8,777.2 C211.6,778 210.4,778.7 209.2,779.4 C207.9,780.1 206.6,780.7 205.3,781.2 C204,781.7 202.6,782.2 201.3,782.6 C199.9,783 198.5,783.4 197.1,783.7 C195.7,783.9 194.2,784.2 192.8,784.3 C191.4,784.4 189.9,784.5 188.5,784.5 C187.1,784.5 185.6,784.4 184.2,784.3 C182.8,784.2 181.3,783.9 179.9,783.7 C178.5,783.4 177.1,783 175.7,782.6 C174.4,782.2 173,781.7 171.7,781.2 C170.4,780.7 169.1,780.1 167.9,779.4 C166.6,778.7 165.4,778 164.2,777.2 C163.1,776.4 161.9,775.6 160.9,774.7 C159.8,773.8 158.8,772.9 157.8,771.9 C156.8,770.9 155.9,769.9 155.1,768.8 C154.2,767.7 153.5,766.6 152.7,765.4 C152,764.3 151.4,763.1 150.8,761.9 C150.2,760.7 149.7,759.4 149.2,758.2 C148.8,756.9 148.4,755.6 148.1,754.3 C147.8,753 147.6,751.7 147.4,750.4 C147.3,749.1 147.2,747.7 147.2,746.4 C147.2,745.1 147.3,743.7 147.4,742.4 C147.6,741.1 147.8,739.8 148.1,738.5 C148.4,737.2 148.8,735.9 149.2,734.6 C149.7,733.4 150.2,732.1 150.8,730.9 C151.4,729.7 152,728.5 152.7,727.4 C153.5,726.2 154.2,725.1 155.1,724 C155.9,722.9 156.8,721.9 157.8,720.9 C158.8,719.9 159.8,719 160.9,718.1 C161.9,717.2 163.1,716.4 164.2,715.6 C165.4,714.8 166.6,714.1 167.8,713.4 C169.1,712.7 170.4,712.1 171.7,711.6 C173,711.1 174.4,710.6 175.7,710.2 C177.1,709.8 178.5,709.4 179.9,709.1 C181.3,708.9 182.8,708.6 184.2,708.5 C185.6,708.4 187.1,708.3 188.5,708.3 C189.9,708.3 191.4,708.4 192.8,708.5 C194.2,708.6 195.7,708.9 197.1,709.1 C198.5,709.4 199.9,709.8 201.3,710.2 C202.6,710.6 204,711.1 205.3,711.6 C206.6,712.1 207.9,712.7 209.2,713.4 C210.4,714.1 211.6,714.8 212.8,715.6 C213.9,716.4 215.1,717.2 216.1,718.1 C217.2,719 218.2,719.9 219.2,720.9 C220.2,721.9 221.1,722.9 221.9,724 C222.8,725.1 223.5,726.2 224.3,727.3 C225,728.5 225.6,729.7 226.2,730.9 C226.8,732.1 227.3,733.4 227.8,734.6 C228.2,735.9 228.6,737.2 228.9,738.5 C229.2,739.8 229.4,741.1 229.6,742.4 C229.7,743.7 229.8,745.1 229.8,746.4Z"/>
<path class="hk" d="M226.2,730.2 C226.4,730.6 227.1,732.1 227.5,733 C227.9,734 228.2,735 228.5,735.9 C228.8,736.9 229.1,737.9 229.3,738.9 C229.5,739.9 229.7,741 229.8,742 C230,743 230,744 230.1,745.1 C230.1,746.1 230.1,747.1 230.1,748.1 C230,749.2 229.9,750.2 229.8,751.2 C229.6,752.2 229.4,753.2 229.2,754.3 C229,755.3 228.7,756.3 228.4,757.2 C228.1,758.2 227.7,759.2 227.3,760.2 C226.9,761.1 226.5,762.1 226,763 C225.5,763.9 225,764.8 224.5,765.7 C223.9,766.6 223.3,767.5 222.7,768.3 C222,769.2 221.4,770 220.6,770.8 C219.9,771.6 219.2,772.3 218.4,773.1 C217.7,773.8 216.8,774.5 216,775.2 C215.2,775.9 214.3,776.5 213.4,777.1 C212.5,777.8 211.6,778.3 210.7,778.9 C209.7,779.4 208.8,780 207.8,780.4 C206.8,780.9 205.8,781.3 204.8,781.7 C203.7,782.1 202.7,782.5 201.6,782.8 C200.6,783.2 199.5,783.4 198.4,783.7 C197.3,783.9 196.2,784.1 195.2,784.3 C194.1,784.5 192.9,784.6 191.8,784.7 C190.7,784.8 189.6,784.8 188.5,784.8 C187.4,784.8 186.3,784.8 185.2,784.7 C184.1,784.6 182.9,784.5 181.8,784.3 C180.8,784.1 179.7,783.9 178.6,783.7 C177.5,783.4 176.4,783.2 175.4,782.8 C174.3,782.5 173.3,782.1 172.2,781.7 C171.2,781.3 170.2,780.9 169.2,780.4 C168.2,780 167.3,779.4 166.3,778.9 C165.4,778.3 164.5,777.8 163.6,777.1 C162.7,776.5 161.8,775.9 161,775.2 C160.2,774.5 159.3,773.8 158.6,773.1 C157.8,772.3 157.1,771.6 156.4,770.8 C155.6,770 155,769.2 154.3,768.3 C153.7,767.5 153.1,766.6 152.5,765.7 C152,764.8 151.5,763.9 151,763 C150.5,762.1 150.1,761.1 149.7,760.2 C149.3,759.2 148.9,758.2 148.6,757.2 C148.3,756.3 148,755.3 147.8,754.3 C147.6,753.2 147.4,752.2 147.2,751.2 C147.1,750.2 147,749.2 146.9,748.1 C146.9,747.1 146.9,746.1 146.9,745.1 C147,744 147,743 147.2,742 C147.3,741 147.5,739.9 147.7,738.9 C147.9,737.9 148.2,736.9 148.5,735.9 C148.8,735 149.1,734 149.5,733 C149.9,732.1 150.6,730.6 150.8,730.2"/>
<path class="hg" d="M229.2,740.8 C229.2,741.4 229.1,743 229,744.1 C228.9,745.2 228.8,746.3 228.6,747.4 C228.4,748.5 228.1,749.6 227.8,750.7 C227.5,751.7 227.1,752.8 226.7,753.8 C226.3,754.9 225.8,755.9 225.3,756.9 C224.8,757.9 224.2,758.9 223.6,759.8 C223,760.8 222.4,761.7 221.7,762.7 C221,763.6 220.2,764.4 219.5,765.3 C218.7,766.1 217.9,767 217,767.7 C216.2,768.5 215.3,769.3 214.3,770 C213.4,770.7 212.5,771.4 211.5,772 C210.5,772.6 209.4,773.2 208.4,773.8 C207.4,774.3 206.3,774.9 205.2,775.3 C204.1,775.8 203,776.2 201.8,776.6 C200.7,777 199.5,777.3 198.4,777.6 C197.2,777.9 196,778.1 194.8,778.3 C193.6,778.5 192.4,778.7 191.2,778.8 C190,778.9 188.8,778.9 187.6,778.9 C186.4,778.9 185.2,778.9 184,778.8 C182.8,778.7 181.6,778.5 180.4,778.3 C179.2,778.1 178,777.9 176.8,777.6 C175.7,777.3 174.5,777 173.4,776.6 C172.2,776.2 171.1,775.8 170,775.3 C168.9,774.9 167.8,774.3 166.8,773.8 C165.8,773.2 164.7,772.6 163.7,772 C162.7,771.4 161.8,770.7 160.9,770 C159.9,769.3 159,768.5 158.2,767.7 C157.3,767 156.5,766.1 155.7,765.3 C155,764.4 154.2,763.6 153.5,762.7 C152.8,761.7 152.2,760.8 151.6,759.8 C151,758.9 150.4,757.9 149.9,756.9 C149.4,755.9 148.9,754.9 148.5,753.8 C148.1,752.8 147.7,751.7 147.4,750.7 C147.1,749.6 146.8,748.5 146.6,747.4 C146.4,746.3 146.3,745.2 146.2,744.1 C146.1,743 146,741.9 146,740.8 C146,739.7 146.1,738.6 146.2,737.5 C146.3,736.4 146.4,735.3 146.6,734.2 C146.8,733.1 147.1,732 147.4,730.9 C147.7,729.9 148.1,728.8 148.5,727.8 C148.9,726.7 149.4,725.7 149.9,724.7 C150.4,723.7 151,722.7 151.6,721.8 C152.2,720.8 152.8,719.9 153.5,718.9 C154.2,718 155,717.2 155.7,716.3 C156.5,715.5 157.3,714.6 158.2,713.9 C159,713.1 159.9,712.3 160.9,711.6 C161.8,710.9 162.7,710.2 163.7,709.6 C164.7,709 165.8,708.4 166.8,707.8 C167.8,707.3 168.9,706.7 170,706.3 C171.1,705.8 172.2,705.4 173.4,705 C174.5,704.6 175.7,704.3 176.8,704 C178,703.7 179.2,703.5 180.4,703.3 C181.6,703.1 182.8,702.9 184,702.8 C185.2,702.7 186.4,702.7 187.6,702.7 C188.8,702.7 190,702.7 191.2,702.8 C192.4,702.9 193.6,703.1 194.8,703.3 C196,703.5 197.2,703.7 198.4,704 C199.5,704.3 200.7,704.6 201.8,705 C203,705.4 204.1,705.8 205.2,706.3 C206.3,706.7 207.4,707.3 208.4,707.8 C209.4,708.4 210.5,709 211.5,709.6 C212.5,710.2 213.4,710.9 214.3,711.6 C215.3,712.3 216.2,713.1 217,713.9 C217.9,714.6 218.7,715.5 219.5,716.3 C220.2,717.2 221,718 221.7,718.9 C222.4,719.9 223,720.8 223.6,721.7 C224.2,722.7 224.8,723.7 225.3,724.7 C225.8,725.7 226.3,726.7 226.7,727.8 C227.1,728.8 227.5,729.9 227.8,730.9 C228.1,732 228.4,733.1 228.6,734.2 C228.8,735.3 228.9,736.4 229,737.5 C229.1,738.6 229.2,740.2 229.2,740.8"/>
<path class="hg" d="M228.6,735.2 C228.6,735.8 228.5,737.4 228.4,738.5 C228.3,739.6 228.2,740.7 228,741.8 C227.8,742.9 227.5,744 227.2,745.1 C226.9,746.1 226.5,747.2 226.1,748.2 C225.7,749.3 225.2,750.3 224.7,751.3 C224.2,752.3 223.6,753.3 223,754.2 C222.4,755.2 221.7,756.1 221,757.1 C220.3,758 219.6,758.8 218.8,759.7 C218,760.5 217.2,761.4 216.3,762.1 C215.5,762.9 214.6,763.7 213.6,764.4 C212.7,765.1 211.7,765.8 210.7,766.4 C209.7,767 208.7,767.6 207.6,768.2 C206.6,768.7 205.5,769.3 204.4,769.7 C203.3,770.2 202.2,770.6 201,771 C199.9,771.4 198.7,771.7 197.5,772 C196.4,772.3 195.2,772.5 194,772.7 C192.8,772.9 191.6,773.1 190.4,773.2 C189.1,773.3 187.9,773.3 186.7,773.3 C185.5,773.3 184.3,773.3 183,773.2 C181.8,773.1 180.6,772.9 179.4,772.7 C178.2,772.5 177,772.3 175.9,772 C174.7,771.7 173.5,771.4 172.4,771 C171.2,770.6 170.1,770.2 169,769.7 C167.9,769.3 166.8,768.7 165.8,768.2 C164.7,767.6 163.7,767 162.7,766.4 C161.7,765.8 160.7,765.1 159.8,764.4 C158.8,763.7 157.9,762.9 157.1,762.1 C156.2,761.4 155.4,760.5 154.6,759.7 C153.8,758.8 153.1,758 152.4,757.1 C151.7,756.1 151,755.2 150.4,754.2 C149.8,753.3 149.2,752.3 148.7,751.3 C148.2,750.3 147.7,749.3 147.3,748.2 C146.9,747.2 146.5,746.1 146.2,745.1 C145.9,744 145.6,742.9 145.4,741.8 C145.2,740.7 145.1,739.6 145,738.5 C144.9,737.4 144.8,736.3 144.8,735.2 C144.8,734.1 144.9,733 145,731.9 C145.1,730.8 145.2,729.7 145.4,728.6 C145.6,727.5 145.9,726.4 146.2,725.3 C146.5,724.3 146.9,723.2 147.3,722.2 C147.7,721.1 148.2,720.1 148.7,719.1 C149.2,718.1 149.8,717.1 150.4,716.1 C151,715.2 151.7,714.3 152.4,713.3 C153.1,712.4 153.8,711.6 154.6,710.7 C155.4,709.9 156.2,709 157.1,708.3 C157.9,707.5 158.8,706.7 159.8,706 C160.7,705.3 161.7,704.6 162.7,704 C163.7,703.4 164.7,702.8 165.7,702.2 C166.8,701.7 167.9,701.1 169,700.7 C170.1,700.2 171.2,699.8 172.4,699.4 C173.5,699 174.7,698.7 175.9,698.4 C177,698.1 178.2,697.9 179.4,697.7 C180.6,697.5 181.8,697.3 183,697.2 C184.3,697.1 185.5,697.1 186.7,697.1 C187.9,697.1 189.1,697.1 190.4,697.2 C191.6,697.3 192.8,697.5 194,697.7 C195.2,697.9 196.4,698.1 197.5,698.4 C198.7,698.7 199.9,699 201,699.4 C202.2,699.8 203.3,700.2 204.4,700.7 C205.5,701.1 206.6,701.7 207.6,702.2 C208.7,702.8 209.7,703.4 210.7,704 C211.7,704.6 212.7,705.3 213.6,706 C214.6,706.7 215.5,707.5 216.3,708.3 C217.2,709 218,709.9 218.8,710.7 C219.6,711.6 220.3,712.4 221,713.3 C221.7,714.3 222.4,715.2 223,716.1 C223.6,717.1 224.2,718.1 224.7,719.1 C225.2,720.1 225.7,721.1 226.1,722.2 C226.5,723.2 226.9,724.3 227.2,725.3 C227.5,726.4 227.8,727.5 228,728.6 C228.2,729.7 228.3,730.8 228.4,731.9 C228.5,733 228.6,734.6 228.6,735.2"/>
<path class="hg" d="M228,729.6 C228,730.2 227.9,731.8 227.8,732.9 C227.7,734 227.6,735.1 227.4,736.2 C227.1,737.3 226.9,738.4 226.6,739.5 C226.2,740.5 225.9,741.6 225.5,742.6 C225,743.7 224.6,744.7 224,745.7 C223.5,746.7 223,747.7 222.3,748.6 C221.7,749.6 221.1,750.5 220.4,751.5 C219.7,752.4 218.9,753.2 218.1,754.1 C217.3,754.9 216.5,755.8 215.6,756.5 C214.8,757.3 213.9,758.1 212.9,758.8 C212,759.5 211,760.2 210,760.8 C209,761.4 208,762 206.9,762.6 C205.8,763.1 204.7,763.7 203.6,764.1 C202.5,764.6 201.4,765 200.2,765.4 C199.1,765.8 197.9,766.1 196.7,766.4 C195.5,766.7 194.3,766.9 193.1,767.1 C191.9,767.3 190.7,767.5 189.5,767.6 C188.3,767.7 187,767.7 185.8,767.7 C184.6,767.7 183.3,767.7 182.1,767.6 C180.9,767.5 179.7,767.3 178.5,767.1 C177.3,766.9 176.1,766.7 174.9,766.4 C173.7,766.1 172.5,765.8 171.4,765.4 C170.2,765 169.1,764.6 168,764.1 C166.9,763.7 165.8,763.1 164.7,762.6 C163.6,762 162.6,761.4 161.6,760.8 C160.6,760.2 159.6,759.5 158.7,758.8 C157.7,758.1 156.8,757.3 156,756.5 C155.1,755.8 154.3,754.9 153.5,754.1 C152.7,753.2 151.9,752.4 151.2,751.5 C150.5,750.5 149.9,749.6 149.3,748.6 C148.6,747.7 148.1,746.7 147.6,745.7 C147,744.7 146.6,743.7 146.1,742.6 C145.7,741.6 145.4,740.5 145,739.5 C144.7,738.4 144.5,737.3 144.2,736.2 C144,735.1 143.9,734 143.8,732.9 C143.7,731.8 143.6,730.7 143.6,729.6 C143.6,728.5 143.7,727.4 143.8,726.3 C143.9,725.2 144,724.1 144.2,723 C144.5,721.9 144.7,720.8 145,719.7 C145.4,718.7 145.7,717.6 146.1,716.6 C146.6,715.5 147,714.5 147.6,713.5 C148.1,712.5 148.6,711.5 149.3,710.6 C149.9,709.6 150.5,708.7 151.2,707.7 C151.9,706.8 152.7,706 153.5,705.1 C154.3,704.3 155.1,703.4 156,702.7 C156.8,701.9 157.7,701.1 158.7,700.4 C159.6,699.7 160.6,699 161.6,698.4 C162.6,697.8 163.6,697.2 164.7,696.6 C165.8,696.1 166.9,695.5 168,695.1 C169.1,694.6 170.2,694.2 171.4,693.8 C172.5,693.4 173.7,693.1 174.9,692.8 C176.1,692.5 177.3,692.3 178.5,692.1 C179.7,691.9 180.9,691.7 182.1,691.6 C183.3,691.5 184.6,691.5 185.8,691.5 C187,691.5 188.3,691.5 189.5,691.6 C190.7,691.7 191.9,691.9 193.1,692.1 C194.3,692.3 195.5,692.5 196.7,692.8 C197.9,693.1 199.1,693.4 200.2,693.8 C201.4,694.2 202.5,694.6 203.6,695.1 C204.7,695.5 205.8,696.1 206.9,696.6 C208,697.2 209,697.8 210,698.4 C211,699 212,699.7 212.9,700.4 C213.9,701.1 214.8,701.9 215.6,702.7 C216.5,703.4 217.3,704.3 218.1,705.1 C218.9,706 219.7,706.8 220.4,707.7 C221.1,708.7 221.7,709.6 222.3,710.5 C223,711.5 223.5,712.5 224,713.5 C224.6,714.5 225,715.5 225.5,716.6 C225.9,717.6 226.2,718.7 226.6,719.7 C226.9,720.8 227.1,721.9 227.4,723 C227.6,724.1 227.7,725.2 227.8,726.3 C227.9,727.4 228,729 228,729.6"/>
<path class="hg" d="M227.4,724 C227.4,724.6 227.3,726.2 227.2,727.3 C227.1,728.4 227,729.5 226.8,730.6 C226.5,731.7 226.3,732.8 226,733.9 C225.6,734.9 225.3,736 224.8,737 C224.4,738.1 223.9,739.1 223.4,740.1 C222.9,741.1 222.3,742.1 221.7,743 C221.1,744 220.4,744.9 219.7,745.9 C219,746.8 218.3,747.6 217.5,748.5 C216.7,749.3 215.8,750.2 215,750.9 C214.1,751.7 213.2,752.5 212.2,753.2 C211.3,753.9 210.3,754.6 209.3,755.2 C208.3,755.8 207.2,756.4 206.2,757 C205.1,757.5 204,758.1 202.9,758.5 C201.7,759 200.6,759.4 199.4,759.8 C198.3,760.2 197.1,760.5 195.9,760.8 C194.7,761.1 193.5,761.3 192.3,761.5 C191.1,761.7 189.8,761.9 188.6,762 C187.4,762.1 186.1,762.1 184.9,762.1 C183.7,762.1 182.4,762.1 181.2,762 C180,761.9 178.7,761.7 177.5,761.5 C176.3,761.3 175.1,761.1 173.9,760.8 C172.7,760.5 171.5,760.2 170.4,759.8 C169.2,759.4 168.1,759 166.9,758.5 C165.8,758.1 164.7,757.5 163.7,757 C162.6,756.4 161.5,755.8 160.5,755.2 C159.5,754.6 158.5,753.9 157.6,753.2 C156.6,752.5 155.7,751.7 154.8,750.9 C154,750.2 153.1,749.3 152.3,748.5 C151.5,747.6 150.8,746.8 150.1,745.9 C149.4,744.9 148.7,744 148.1,743 C147.5,742.1 146.9,741.1 146.4,740.1 C145.9,739.1 145.4,738.1 145,737 C144.5,736 144.2,734.9 143.8,733.9 C143.5,732.8 143.3,731.7 143,730.6 C142.8,729.5 142.7,728.4 142.6,727.3 C142.5,726.2 142.4,725.1 142.4,724 C142.4,722.9 142.5,721.8 142.6,720.7 C142.7,719.6 142.8,718.5 143,717.4 C143.3,716.3 143.5,715.2 143.8,714.1 C144.2,713.1 144.5,712 145,711 C145.4,709.9 145.9,708.9 146.4,707.9 C146.9,706.9 147.5,705.9 148.1,705 C148.7,704 149.4,703.1 150.1,702.1 C150.8,701.2 151.5,700.4 152.3,699.5 C153.1,698.7 154,697.8 154.8,697.1 C155.7,696.3 156.6,695.5 157.6,694.8 C158.5,694.1 159.5,693.4 160.5,692.8 C161.5,692.2 162.6,691.6 163.6,691 C164.7,690.5 165.8,689.9 166.9,689.5 C168.1,689 169.2,688.6 170.4,688.2 C171.5,687.8 172.7,687.5 173.9,687.2 C175.1,686.9 176.3,686.7 177.5,686.5 C178.7,686.3 180,686.1 181.2,686 C182.4,685.9 183.7,685.9 184.9,685.9 C186.1,685.9 187.4,685.9 188.6,686 C189.8,686.1 191.1,686.3 192.3,686.5 C193.5,686.7 194.7,686.9 195.9,687.2 C197.1,687.5 198.3,687.8 199.4,688.2 C200.6,688.6 201.7,689 202.9,689.5 C204,689.9 205.1,690.5 206.2,691 C207.2,691.6 208.3,692.2 209.3,692.8 C210.3,693.4 211.3,694.1 212.2,694.8 C213.2,695.5 214.1,696.3 215,697.1 C215.8,697.8 216.7,698.7 217.5,699.5 C218.3,700.4 219,701.2 219.7,702.1 C220.4,703.1 221.1,704 221.7,704.9 C222.3,705.9 222.9,706.9 223.4,707.9 C223.9,708.9 224.4,709.9 224.8,711 C225.3,712 225.6,713.1 226,714.1 C226.3,715.2 226.5,716.3 226.8,717.4 C227,718.5 227.1,719.6 227.2,720.7 C227.3,721.8 227.4,723.4 227.4,724"/>
<path class="hg" d="M162.3,691.4 C162.6,691.2 163.4,690.5 163.9,690 C164.5,689.6 165,689.2 165.6,688.7 C166.2,688.3 166.7,687.9 167.3,687.5 C167.9,687.1 168.5,686.8 169.1,686.4 C169.7,686 170.4,685.7 171,685.4 C171.6,685 172.3,684.7 172.9,684.4 C173.6,684.1 174.2,683.8 174.9,683.5 C175.6,683.3 176.2,683 176.9,682.8 C177.6,682.5 178.3,682.3 179,682.1 C179.7,681.9 180.4,681.7 181.1,681.5 C181.8,681.4 182.5,681.2 183.2,681.1 C183.9,680.9 184.7,680.8 185.4,680.7 C186.1,680.6 186.8,680.5 187.5,680.5 C188.3,680.4 189,680.3 189.7,680.3 C190.5,680.3 191.2,680.2 191.9,680.2 C192.6,680.2 193.4,680.3 194.1,680.3 C194.8,680.3 195.6,680.4 196.3,680.5 C197,680.5 197.7,680.6 198.5,680.7 C199.2,680.8 199.9,680.9 200.6,681.1 C201.3,681.2 202,681.4 202.7,681.5 C203.4,681.7 204.1,681.9 204.8,682.1 C205.5,682.3 206.2,682.5 206.9,682.8 C207.6,683 208.3,683.3 208.9,683.5 C209.6,683.8 210.3,684.1 210.9,684.4 C211.6,684.7 212.2,685 212.8,685.4 C213.5,685.7 214.1,686 214.7,686.4 C215.3,686.8 215.9,687.1 216.5,687.5 C217.1,687.9 217.7,688.3 218.2,688.7 C218.8,689.2 219.4,689.6 219.9,690 C220.5,690.5 221,690.9 221.5,691.4 C222,691.9 222.5,692.4 223,692.9 C223.5,693.3 224,693.9 224.4,694.4 C224.9,694.9 225.3,695.4 225.8,695.9 C226.2,696.5 226.6,697 227,697.6 C227.4,698.1 227.8,698.7 228.1,699.3 C228.5,699.9 228.9,700.5 229.2,701 C229.5,701.6 229.8,702.2 230.1,702.8 C230.4,703.5 230.7,704.1 231,704.7 C231.2,705.3 231.5,705.9 231.7,706.6 C231.9,707.2 232.1,707.8 232.3,708.5 C232.5,709.1 232.7,709.8 232.8,710.4 C233,711.1 233.1,711.7 233.2,712.4 C233.3,713 233.4,713.7 233.5,714.4 C233.6,715 233.7,715.7 233.7,716.3 C233.7,717 233.8,717.7 233.8,718.3 C233.8,719 233.7,719.7 233.7,720.3 C233.7,721 233.6,721.7 233.5,722.3 C233.4,723 233.3,723.6 233.2,724.3 C233.1,724.9 233,725.6 232.8,726.3 C232.7,726.9 232.5,727.5 232.3,728.2 C232.1,728.8 231.9,729.5 231.7,730.1 C231.5,730.7 231.2,731.4 231,732 C230.7,732.6 230.4,733.2 230.1,733.8 C229.8,734.4 229.3,735.3 229.2,735.6"/>
<path class="hg" d="M174.7,681.9 C175,681.7 175.9,681.1 176.5,680.7 C177.1,680.4 177.7,680 178.3,679.7 C179,679.4 179.6,679.1 180.2,678.7 C180.9,678.4 181.5,678.2 182.2,677.9 C182.8,677.6 183.5,677.4 184.2,677.1 C184.9,676.9 185.5,676.7 186.2,676.5 C186.9,676.3 187.6,676.1 188.3,675.9 C189,675.7 189.7,675.6 190.4,675.4 C191.1,675.3 191.8,675.2 192.5,675.1 C193.2,675 193.9,674.9 194.6,674.8 C195.3,674.7 196.1,674.7 196.8,674.7 C197.5,674.6 198.2,674.6 198.9,674.6 C199.7,674.6 200.4,674.6 201.1,674.7 C201.8,674.7 202.5,674.7 203.2,674.8 C204,674.9 204.7,675 205.4,675.1 C206.1,675.2 206.8,675.3 207.5,675.4 C208.2,675.6 208.9,675.7 209.6,675.9 C210.3,676.1 211,676.3 211.7,676.5 C212.3,676.7 213,676.9 213.7,677.1 C214.4,677.4 215,677.6 215.7,677.9 C216.3,678.2 217,678.4 217.6,678.7 C218.3,679.1 218.9,679.4 219.5,679.7 C220.1,680 220.8,680.4 221.4,680.7 C222,681.1 222.5,681.5 223.1,681.9 C223.7,682.3 224.3,682.7 224.8,683.1 C225.4,683.5 225.9,683.9 226.5,684.4 C227,684.8 227.5,685.3 228,685.7 C228.6,686.2 229,686.7 229.5,687.2 C230,687.7 230.5,688.2 230.9,688.7 C231.4,689.2 231.8,689.8 232.2,690.3 C232.7,690.8 233.1,691.4 233.5,691.9 C233.8,692.5 234.2,693.1 234.6,693.6 C234.9,694.2 235.3,694.8 235.6,695.4 C235.9,696 236.2,696.6 236.5,697.2 C236.8,697.8 237.1,698.4 237.4,699 C237.6,699.6 237.9,700.3 238.1,700.9 C238.3,701.5 238.5,702.2 238.7,702.8 C238.9,703.5 239.1,704.1 239.2,704.8 C239.3,705.4 239.5,706.1 239.6,706.7 C239.7,707.4 239.8,708 239.9,708.7 C239.9,709.3 240,710 240,710.7 C240.1,711.3 240.1,712 240.1,712.7 C240.1,713.3 240.1,714 240,714.7 C240,715.3 239.9,716 239.9,716.6 C239.8,717.3 239.7,718 239.6,718.6 C239.5,719.3 239.3,719.9 239.2,720.6 C239.1,721.2 238.9,721.9 238.7,722.5 C238.5,723.2 238.3,723.8 238.1,724.4 C237.9,725.1 237.6,725.7 237.4,726.3 C237.1,726.9 236.8,727.5 236.5,728.1 C236.2,728.8 235.9,729.4 235.6,729.9 C235.3,730.5 234.9,731.1 234.6,731.7 C234.2,732.3 233.8,732.8 233.5,733.4 C233.1,734 232.7,734.5 232.2,735 C231.8,735.6 231.4,736.1 230.9,736.6 C230.5,737.1 229.8,737.9 229.5,738.1"/>
<path class="hg" d="M170.9,688 C171.1,687.7 171.6,686.8 172,686.3 C172.4,685.7 172.8,685.2 173.2,684.6 C173.6,684.1 174,683.6 174.5,683.1 C174.9,682.5 175.4,682 175.9,681.5 C176.3,681 176.8,680.6 177.3,680.1 C177.8,679.6 178.3,679.2 178.9,678.7 C179.4,678.3 179.9,677.8 180.5,677.4 C181,677 181.6,676.6 182.1,676.2 C182.7,675.8 183.3,675.5 183.9,675.1 C184.5,674.7 185.1,674.4 185.7,674 C186.3,673.7 186.9,673.4 187.6,673.1 C188.2,672.8 188.8,672.5 189.5,672.2 C190.1,672 190.8,671.7 191.4,671.5 C192.1,671.2 192.8,671 193.4,670.8 C194.1,670.6 194.8,670.4 195.5,670.2 C196.2,670.1 196.8,669.9 197.5,669.8 C198.2,669.6 198.9,669.5 199.6,669.4 C200.3,669.3 201,669.2 201.7,669.2 C202.4,669.1 203.1,669 203.8,669 C204.5,669 205.2,669 205.9,669 C206.7,669 207.4,669 208.1,669 C208.8,669 209.5,669.1 210.2,669.2 C210.9,669.2 211.6,669.3 212.3,669.4 C213,669.5 213.7,669.6 214.4,669.8 C215.1,669.9 215.7,670.1 216.4,670.2 C217.1,670.4 217.8,670.6 218.5,670.8 C219.1,671 219.8,671.2 220.5,671.5 C221.1,671.7 221.8,672 222.4,672.2 C223.1,672.5 223.7,672.8 224.3,673.1 C225,673.4 225.6,673.7 226.2,674 C226.8,674.4 227.4,674.7 228,675.1 C228.6,675.5 229.2,675.8 229.8,676.2 C230.3,676.6 230.9,677 231.4,677.4 C232,677.8 232.5,678.3 233,678.7 C233.6,679.2 234.1,679.6 234.6,680.1 C235.1,680.6 235.6,681 236,681.5 C236.5,682 237,682.5 237.4,683.1 C237.9,683.6 238.3,684.1 238.7,684.6 C239.1,685.2 239.5,685.7 239.9,686.3 C240.3,686.8 240.7,687.4 241,688 C241.4,688.5 241.7,689.1 242,689.7 C242.4,690.3 242.7,690.9 242.9,691.5 C243.2,692.1 243.5,692.7 243.8,693.4 C244,694 244.2,694.6 244.5,695.2 C244.7,695.9 244.9,696.5 245.1,697.2 C245.3,697.8 245.4,698.4 245.6,699.1 C245.7,699.7 245.8,700.4 246,701 C246.1,701.7 246.2,702.4 246.2,703 C246.3,703.7 246.4,704.3 246.4,705 C246.4,705.7 246.4,706.3 246.4,707 C246.4,707.7 246.4,708.3 246.4,709 C246.4,709.7 246.3,710.3 246.2,711 C246.2,711.6 246.1,712.3 246,713 C245.8,713.6 245.7,714.3 245.6,714.9 C245.4,715.6 245.3,716.2 245.1,716.8 C244.9,717.5 244.7,718.1 244.5,718.8 C244.2,719.4 244,720 243.8,720.6 C243.5,721.3 243.2,721.9 242.9,722.5 C242.7,723.1 242.4,723.7 242,724.3 C241.7,724.9 241.4,725.5 241,726 C240.7,726.6 240.3,727.2 239.9,727.7 C239.5,728.3 239.1,728.8 238.7,729.4 C238.3,729.9 237.9,730.4 237.4,730.9 C237,731.5 236.5,732 236,732.5 C235.6,733 235.1,733.4 234.6,733.9 C234.1,734.4 233.6,734.8 233,735.3 C232.5,735.7 232,736.2 231.4,736.6 C230.9,737 230,737.6 229.8,737.8"/>
<path class="hg" d="M176.6,685.9 C176.7,685.6 177.2,684.7 177.5,684.1 C177.8,683.5 178.1,682.9 178.5,682.3 C178.8,681.7 179.2,681.2 179.6,680.6 C179.9,680.1 180.3,679.5 180.7,679 C181.1,678.4 181.6,677.9 182,677.4 C182.4,676.9 182.9,676.4 183.4,675.9 C183.8,675.4 184.3,674.9 184.8,674.4 C185.3,674 185.8,673.5 186.3,673.1 C186.8,672.6 187.4,672.2 187.9,671.8 C188.4,671.4 189,671 189.6,670.6 C190.1,670.2 190.7,669.8 191.3,669.4 C191.9,669.1 192.4,668.7 193,668.4 C193.7,668.1 194.3,667.7 194.9,667.4 C195.5,667.1 196.1,666.9 196.8,666.6 C197.4,666.3 198,666.1 198.7,665.8 C199.3,665.6 200,665.4 200.7,665.2 C201.3,665 202,664.8 202.7,664.6 C203.3,664.4 204,664.3 204.7,664.1 C205.4,664 206,663.9 206.7,663.8 C207.4,663.7 208.1,663.6 208.8,663.5 C209.5,663.4 210.2,663.4 210.9,663.4 C211.6,663.3 212.3,663.3 213,663.3 C213.7,663.3 214.4,663.3 215.1,663.4 C215.7,663.4 216.4,663.4 217.1,663.5 C217.8,663.6 218.5,663.7 219.2,663.8 C219.9,663.9 220.6,664 221.2,664.1 C221.9,664.3 222.6,664.4 223.3,664.6 C223.9,664.8 224.6,665 225.3,665.2 C225.9,665.4 226.6,665.6 227.2,665.8 C227.9,666.1 228.5,666.3 229.2,666.6 C229.8,666.9 230.4,667.1 231.1,667.4 C231.7,667.7 232.3,668.1 232.9,668.4 C233.5,668.7 234.1,669.1 234.7,669.4 C235.2,669.8 235.8,670.2 236.4,670.6 C236.9,671 237.5,671.4 238,671.8 C238.6,672.2 239.1,672.6 239.6,673.1 C240.1,673.5 240.6,674 241.1,674.4 C241.6,674.9 242.1,675.4 242.6,675.9 C243,676.4 243.5,676.9 243.9,677.4 C244.4,677.9 244.8,678.4 245.2,679 C245.6,679.5 246,680.1 246.4,680.6 C246.8,681.2 247.1,681.7 247.5,682.3 C247.8,682.9 248.1,683.5 248.5,684.1 C248.8,684.7 249.1,685.3 249.4,685.9 C249.6,686.5 249.9,687.1 250.2,687.7 C250.4,688.3 250.6,688.9 250.9,689.6 C251.1,690.2 251.3,690.8 251.4,691.5 C251.6,692.1 251.8,692.8 251.9,693.4 C252.1,694.1 252.2,694.7 252.3,695.4 C252.4,696 252.5,696.7 252.6,697.4 C252.7,698 252.7,698.7 252.7,699.3 C252.8,700 252.8,700.7 252.8,701.3 C252.8,702 252.8,702.7 252.7,703.3 C252.7,704 252.7,704.6 252.6,705.3 C252.5,706 252.4,706.6 252.3,707.3 C252.2,707.9 252.1,708.6 251.9,709.2 C251.8,709.9 251.6,710.5 251.4,711.2 C251.3,711.8 251.1,712.5 250.9,713.1 C250.6,713.7 250.4,714.3 250.2,715 C249.9,715.6 249.6,716.2 249.4,716.8 C249.1,717.4 248.8,718 248.5,718.6 C248.1,719.2 247.8,719.8 247.5,720.4 C247.1,720.9 246.8,721.5 246.4,722 C246,722.6 245.6,723.2 245.2,723.7 C244.8,724.2 244.4,724.8 243.9,725.3 C243.5,725.8 243,726.3 242.6,726.8 C242.1,727.3 241.6,727.8 241.1,728.2 C240.6,728.7 240.1,729.2 239.6,729.6 C239.1,730 238.6,730.5 238,730.9 C237.5,731.3 236.9,731.7 236.4,732.1 C235.8,732.5 235.2,732.9 234.7,733.2 C234.1,733.6 233.5,733.9 232.9,734.3 C232.3,734.6 231.7,734.9 231.1,735.2 C230.4,735.5 229.5,735.9 229.2,736.1"/>
<path class="hg" d="M182.2,685.8 C182.2,685.5 182.5,684.5 182.7,683.9 C182.9,683.3 183.2,682.7 183.4,682 C183.7,681.4 183.9,680.8 184.2,680.2 C184.5,679.6 184.8,679 185.1,678.4 C185.4,677.8 185.7,677.2 186.1,676.7 C186.4,676.1 186.8,675.5 187.1,675 C187.5,674.4 187.9,673.9 188.3,673.3 C188.7,672.8 189.1,672.3 189.5,671.7 C190,671.2 190.4,670.7 190.9,670.2 C191.3,669.7 191.8,669.3 192.3,668.8 C192.8,668.3 193.3,667.9 193.8,667.4 C194.3,667 194.8,666.5 195.3,666.1 C195.9,665.7 196.4,665.3 197,664.9 C197.5,664.5 198.1,664.1 198.7,663.8 C199.2,663.4 199.8,663.1 200.4,662.7 C201,662.4 201.6,662.1 202.2,661.8 C202.8,661.5 203.4,661.2 204.1,660.9 C204.7,660.7 205.3,660.4 205.9,660.2 C206.6,659.9 207.2,659.7 207.9,659.5 C208.5,659.3 209.2,659.1 209.8,658.9 C210.5,658.8 211.2,658.6 211.8,658.5 C212.5,658.3 213.2,658.2 213.9,658.1 C214.5,658 215.2,657.9 215.9,657.9 C216.6,657.8 217.3,657.7 217.9,657.7 C218.6,657.7 219.3,657.6 220,657.6 C220.7,657.6 221.4,657.7 222,657.7 C222.7,657.7 223.4,657.8 224.1,657.9 C224.8,657.9 225.4,658 226.1,658.1 C226.8,658.2 227.5,658.3 228.1,658.5 C228.8,658.6 229.5,658.8 230.1,658.9 C230.8,659.1 231.4,659.3 232.1,659.5 C232.7,659.7 233.4,659.9 234,660.2 C234.7,660.4 235.3,660.7 235.9,660.9 C236.5,661.2 237.2,661.5 237.8,661.8 C238.4,662.1 239,662.4 239.6,662.7 C240.2,663.1 240.7,663.4 241.3,663.8 C241.9,664.1 242.5,664.5 243,664.9 C243.6,665.3 244.1,665.7 244.6,666.1 C245.2,666.5 245.7,667 246.2,667.4 C246.7,667.9 247.2,668.3 247.7,668.8 C248.2,669.3 248.6,669.7 249.1,670.2 C249.5,670.7 250,671.2 250.4,671.7 C250.9,672.3 251.3,672.8 251.7,673.3 C252.1,673.9 252.5,674.4 252.8,675 C253.2,675.5 253.6,676.1 253.9,676.7 C254.2,677.2 254.6,677.8 254.9,678.4 C255.2,679 255.5,679.6 255.8,680.2 C256,680.8 256.3,681.4 256.5,682 C256.8,682.7 257,683.3 257.2,683.9 C257.4,684.5 257.6,685.2 257.8,685.8 C258,686.5 258.2,687.1 258.3,687.8 C258.4,688.4 258.6,689.1 258.7,689.7 C258.8,690.4 258.9,691 258.9,691.7 C259,692.4 259.1,693 259.1,693.7 C259.1,694.3 259.2,695 259.2,695.7 C259.2,696.3 259.1,697 259.1,697.7 C259.1,698.3 259,699 258.9,699.6 C258.9,700.3 258.8,701 258.7,701.6 C258.6,702.3 258.4,702.9 258.3,703.6 C258.2,704.2 258,704.9 257.8,705.5 C257.6,706.1 257.4,706.8 257.2,707.4 C257,708 256.8,708.7 256.5,709.3 C256.3,709.9 256,710.5 255.8,711.1 C255.5,711.7 255.2,712.3 254.9,712.9 C254.6,713.5 254.2,714.1 253.9,714.7 C253.6,715.2 253.2,715.8 252.8,716.4 C252.5,716.9 252.1,717.5 251.7,718 C251.3,718.5 250.9,719.1 250.4,719.6 C250,720.1 249.5,720.6 249.1,721.1 C248.6,721.6 248.2,722.1 247.7,722.5 C247.2,723 246.7,723.5 246.2,723.9 C245.7,724.4 245.2,724.8 244.6,725.2 C244.1,725.6 243.6,726 243,726.4 C242.5,726.8 241.9,727.2 241.3,727.6 C240.7,727.9 240.2,728.3 239.6,728.6 C239,728.9 238.4,729.2 237.8,729.5 C237.2,729.8 236.5,730.1 235.9,730.4 C235.3,730.7 234.7,730.9 234,731.2 C233.4,731.4 232.7,731.6 232.1,731.8 C231.4,732 230.4,732.3 230.1,732.4"/>
<path class="hg" d="M172.4,725 C173.8,726.6 177.1,731.9 180.8,734.7 C184.5,737.5 190.1,740.3 194.7,741.7 C199.3,743.1 204.9,743.2 208.6,743.1 C212.3,743 215.6,741.4 217,741"/>
<path class="hg" d="M185,725 C186.6,725.9 190.8,729.2 194.7,730.6 C198.6,732 204.6,732.8 208.6,733.3 C212.6,733.8 216.8,733.3 218.4,733.3"/>
<path class="hg" d="M169.1,719.2 L172.4,725"/>
<path class="hg" d="M166.9,725 C167.4,725.9 169.9,728.8 169.7,730.6 C169.5,732.5 168.1,735 165.5,736.1 C162.9,737.2 156.2,737.3 154.4,737.5"/>
<path class="hk" d="M172.7,683.1 C170.6,683.9 163.7,686.2 159.9,687.6 C156.1,689 152.8,690.4 150,691.5 C147.2,692.6 147.2,692.5 143.3,694.2 C139.4,695.9 131.7,699.1 126.7,701.7 C121.7,704.3 117.2,706.7 113.3,710 C109.4,713.3 106.1,717.8 103.3,721.7 C100.5,725.6 98.2,730 96.7,733.3 C95.2,736.6 95.1,739.8 94.2,741.7 C93.3,743.7 92,743.5 91.5,745 C91,746.5 91,748.9 91.5,750.5 C92,752.1 94.3,753.3 94.5,754.5 C94.7,755.7 92.8,756.2 92.5,757.5 C92.2,758.8 92.2,761.1 93,762.5 C93.8,763.9 94.7,765 97,766 C99.3,767 102.6,767.9 106.7,768.3 C110.8,768.7 117.3,769 121.7,768.5 C126.1,768 130,766.4 133.3,765 C136.6,763.6 139.6,762 141.7,760 C143.8,758 145.1,754.4 145.8,753.3"/>
<path class="hg" d="M95,743.3 C95.3,744.1 94.5,746.9 96.7,748.3 C98.9,749.7 103.3,751.3 108.3,751.7 C113.3,752.1 121.7,751.6 126.7,750.8 C131.7,750 135.5,748.2 138.3,746.7 C141.1,745.2 142.5,742.5 143.3,741.7"/>
<path class="hg" d="M93.3,755 C94.4,755.5 96.7,757.5 100,758.3 C103.3,759.1 108.3,760 113.3,760 C118.3,760 125.3,759.4 130,758.3 C134.7,757.2 139.8,754.1 141.7,753.3"/>
<path class="hg" d="M108.3,719.2 C110.8,717.7 118.3,712.2 123.3,710 C128.3,707.8 133.9,706.6 138.3,705.8 C142.8,705 148.1,705.1 150,705"/>
</svg>
</body></html>
